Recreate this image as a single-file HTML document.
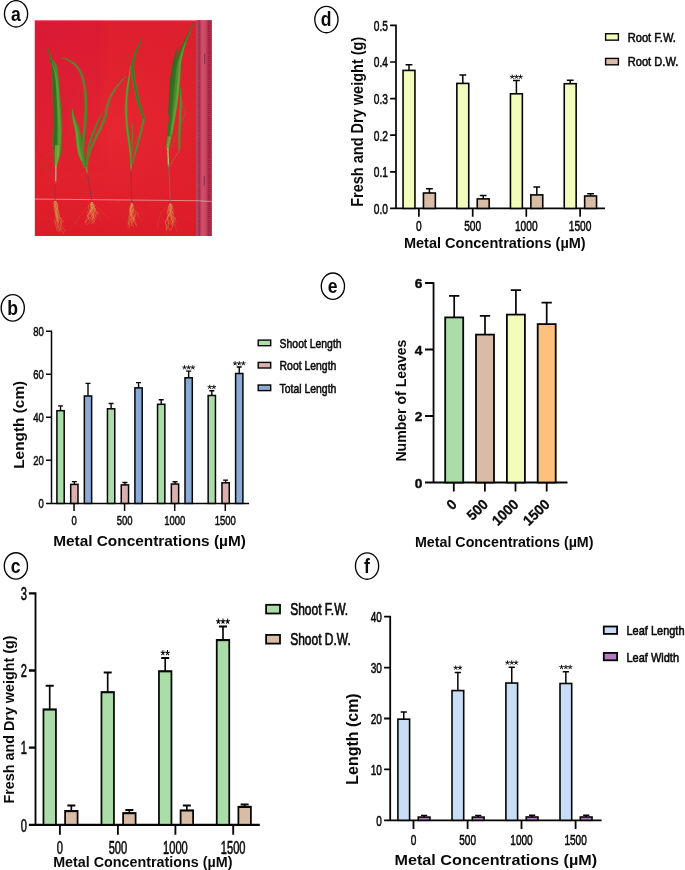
<!DOCTYPE html>
<html><head><meta charset="utf-8"><title>Figure</title>
<style>html,body{margin:0;padding:0;background:#fff}svg{display:block;will-change:transform}body{font-family:"Liberation Sans",sans-serif}</style></head>
<body>
<svg width="685" height="870" viewBox="0 0 685 870" font-family="Liberation Sans, sans-serif">
<rect width="685" height="870" fill="#fff"/>
<defs>
<linearGradient id="bgv" x1="0" y1="0" x2="0" y2="1">
<stop offset="0" stop-color="#dc1f2e"/><stop offset="0.45" stop-color="#e2232e"/><stop offset="0.85" stop-color="#e01e2a"/><stop offset="1" stop-color="#db1b29"/>
</linearGradient>
<linearGradient id="bgl" x1="0" y1="0" x2="1" y2="0"><stop offset="0" stop-color="#d4143f" stop-opacity="0.45"/><stop offset="0.36" stop-color="#d4143f" stop-opacity="0.3"/><stop offset="0.4" stop-color="#d4143f" stop-opacity="0"/></linearGradient>
<linearGradient id="bgl2" x1="0" y1="0" x2="0" y2="1"><stop offset="0" stop-color="#fff" stop-opacity="1"/><stop offset="0.7" stop-color="#fff" stop-opacity="0.5"/><stop offset="1" stop-color="#fff" stop-opacity="0"/></linearGradient>
<mask id="mtop"><rect x="10" y="10" width="660" height="560" fill="url(#bgl2)"/></mask>
<radialGradient id="bgr" cx="0.45" cy="0.5" r="0.65">
<stop offset="0" stop-color="#ea2a33" stop-opacity="0.55"/><stop offset="1" stop-color="#d81c2c" stop-opacity="0"/>
</radialGradient>
<linearGradient id="rul" x1="0" y1="0" x2="1" y2="0">
<stop offset="0" stop-color="#b05068"/><stop offset="0.08" stop-color="#a63350"/><stop offset="0.24" stop-color="#b83a57"/><stop offset="0.3" stop-color="#cd4863"/><stop offset="0.45" stop-color="#d24e68"/><stop offset="0.6" stop-color="#ca4560"/><stop offset="0.68" stop-color="#b23752"/><stop offset="0.86" stop-color="#aa304b"/><stop offset="0.92" stop-color="#cf2439"/><stop offset="1" stop-color="#d3263a"/>
</linearGradient>
<linearGradient id="lf1" x1="0" y1="0" x2="1" y2="0">
<stop offset="0" stop-color="#3c7a27"/><stop offset="0.5" stop-color="#5d9c34"/><stop offset="1" stop-color="#2f6a22"/>
</linearGradient>
<linearGradient id="lf1v" x1="0" y1="0" x2="0" y2="1">
<stop offset="0" stop-color="#3f7f2a"/><stop offset="0.7" stop-color="#4f8f2e"/><stop offset="1" stop-color="#9ab544"/>
</linearGradient>
<clipPath id="pclip2"><rect x="34.8" y="20.27" width="176.96" height="215.74"/></clipPath>
<clipPath id="pclip"><rect x="17.3" y="19" width="638" height="777.8"/></clipPath>
</defs>
<g clip-path="url(#pclip2)">
<g>
<g transform="translate(30,15) scale(0.27737)">
<g>
<rect x="10" y="10" width="660" height="800" fill="url(#bgv)"/>
<rect x="10" y="10" width="660" height="800" fill="url(#bgr)"/>
<rect x="10" y="10" width="660" height="560" fill="url(#bgl)" mask="url(#mtop)"/>
<rect x="10" y="17" width="660" height="5" fill="#f2a0a8" opacity="0.55"/>
<!-- ruler -->
<g>
<rect x="599" y="10" width="58" height="800" fill="url(#rul)"/>
<path d="M611 20V800" stroke="#7a1c38" stroke-width="7" stroke-dasharray="3.4 4.1" opacity="0.5"/>
<path d="M603 20V800" stroke="#d9a5b3" stroke-width="1.6" opacity="0.45"/>
<path d="M646 20V800" stroke="#7a1c38" stroke-width="8" stroke-dasharray="3.4 4.1" opacity="0.7"/>
<path d="M630 140v36M628 580v36" stroke="#6d1c3c" stroke-width="3.5" opacity="0.7"/>

</g>
<!-- white line -->
<path d="M10 663.5L598 669.5L660 672.5" stroke="#efc9c4" stroke-width="2.3" fill="none" opacity="0.95"/>
</g>
</g>
</g>
<g>
<g transform="translate(30,15) scale(0.27737)">
<g>
<path d="M89.0 585.0C84.5 580.0 70.2 564.0 62.0 555.0C53.8 546.0 40.7 538.2 40.0 531.0C39.3 523.8 52.3 517.8 58.0 512.0C63.7 506.2 71.3 498.7 74.0 496.0" fill="none" stroke="#8a5a2a" stroke-width="2.8" stroke-linecap="round" opacity="0.85"/>
<path d="M66.8 122.1C67.5 128.6 69.2 149.6 71.2 161.2C73.2 172.7 76.8 169.9 78.6 191.4C80.4 213.0 81.2 257.6 82.0 290.7C82.8 323.9 83.6 363.8 83.5 390.3C83.4 416.8 81.5 431.5 81.5 449.7C81.5 467.9 82.5 486.0 83.5 499.3C84.5 512.6 86.4 521.4 87.5 529.5C88.7 537.5 90.0 544.8 90.5 547.9L95.5 548.1C96.3 545.2 98.0 538.5 100.5 530.5C103.0 522.6 108.1 514.0 110.5 500.7C112.8 487.3 113.8 468.8 114.5 450.3C115.2 431.8 115.6 416.5 114.5 389.7C113.4 362.9 110.8 322.8 108.0 289.3C105.1 255.8 102.2 210.3 97.4 188.6C92.5 166.8 83.8 169.9 78.8 158.8C73.8 147.7 69.2 128.1 67.2 121.9Z" fill="#4a8a2c" opacity="1" stroke="#4a8a2c" stroke-width="2.2" stroke-opacity="0.45" stroke-linejoin="round"/>
<path d="M66.8 124.0C67.6 130.1 69.4 149.5 71.6 160.6C73.7 171.7 77.6 168.9 79.5 190.5C81.4 212.1 82.2 257.0 83.0 290.2C83.8 323.5 84.4 363.4 84.5 390.0C84.6 416.7 83.3 431.7 83.5 450.0C83.7 468.3 84.5 486.8 85.5 500.1C86.5 513.5 88.8 525.1 89.5 530.1L94.5 529.9C94.8 524.9 96.2 513.2 96.5 499.9C96.8 486.5 96.3 468.3 96.5 450.0C96.7 431.7 97.8 416.7 97.5 390.0C97.2 363.3 96.5 323.2 95.0 289.8C93.5 256.4 91.6 211.2 88.5 189.5C85.4 167.7 80.0 170.3 76.4 159.4C72.9 148.5 68.8 129.9 67.2 124.0Z" fill="#2f6b22" opacity="0.85" stroke="#2f6b22" stroke-width="2.2" stroke-opacity="0.45" stroke-linejoin="round"/>
<path d="M79.5 170.1C81.7 180.2 89.4 205.3 92.5 230.4C95.7 255.4 96.9 291.9 98.5 320.2C100.1 348.5 101.4 376.8 102.0 400.1C102.6 423.4 102.3 441.6 102.0 459.9C101.7 478.1 100.3 501.5 100.0 509.8L104.0 510.2C105.0 501.8 109.0 478.5 110.0 460.1C111.0 441.8 110.7 423.3 110.0 399.9C109.2 376.5 107.6 348.1 105.5 319.8C103.4 291.4 101.6 254.6 97.5 229.6C93.3 204.7 83.3 179.8 80.5 169.9Z" fill="#6aa338" opacity="0.8" stroke="#6aa338" stroke-width="2.2" stroke-opacity="0.45" stroke-linejoin="round"/>
<path d="M91.0 470.0C90.7 475.0 89.1 489.8 89.0 499.7C88.9 509.7 90.2 521.6 90.5 529.6C90.9 537.6 90.9 544.8 91.0 547.8L95.0 548.2C95.7 545.2 97.8 538.4 99.5 530.4C101.2 522.4 104.4 510.3 105.0 500.3C105.6 490.2 103.3 475.0 103.0 470.0Z" fill="#93ad3f" opacity="0.7" stroke="#93ad3f" stroke-width="2.2" stroke-opacity="0.45" stroke-linejoin="round"/>
<path d="M93.0 545.0C93.0 550.8 93.2 570.0 93.0 580.0C92.8 590.0 92.2 600.8 92.0 605.0" fill="none" stroke="#c4bf8c" stroke-width="4.5" stroke-linecap="round" opacity="1"/>
<path d="M92.0 600.0C91.8 605.8 91.2 623.7 91.0 635.0C90.8 646.3 90.6 662.5 90.5 668.0" fill="none" stroke="#7a3a4a" stroke-width="3.4" stroke-linecap="round" opacity="0.75"/>
</g>
<g>
<path d="M115.3 154.5C118.7 156.2 129.0 160.8 135.7 164.7C142.3 168.6 149.2 172.4 155.4 178.0C161.5 183.6 167.7 191.1 172.5 198.4C177.2 205.6 180.6 211.9 183.7 221.4C186.9 231.0 189.4 244.3 191.3 255.8C193.3 267.3 194.7 278.0 195.5 290.4C196.3 302.7 196.3 317.6 196.2 330.0C196.2 342.4 196.0 352.3 195.3 364.7C194.6 377.1 193.1 392.0 192.0 404.5C190.9 417.0 189.3 425.4 188.5 439.7C187.7 454.0 186.5 475.0 187.3 490.1C188.0 505.3 190.8 518.8 193.0 530.5C195.3 542.2 199.3 555.6 200.6 560.6L205.4 559.4C204.4 554.4 200.7 541.1 199.0 529.5C197.2 517.9 195.0 504.7 194.7 489.9C194.5 475.0 196.3 454.4 197.5 440.3C198.7 426.3 200.6 418.0 202.0 405.5C203.4 393.0 204.9 377.9 205.7 365.3C206.5 352.7 206.8 342.6 206.8 330.0C206.7 317.4 206.5 302.3 205.5 289.6C204.5 277.0 202.9 266.0 200.7 254.2C198.5 242.3 195.8 228.6 192.3 218.6C188.7 208.5 184.8 201.4 179.5 193.6C174.3 185.9 167.5 177.7 160.6 172.0C153.8 166.3 145.8 162.4 138.3 159.3C130.8 156.2 119.5 154.5 115.7 153.5Z" fill="#5f7a2e" opacity="1" stroke="#5f7a2e" stroke-width="2.2" stroke-opacity="0.45" stroke-linejoin="round"/>
<path d="M115.4 154.4C118.9 155.9 129.4 159.7 136.3 163.3C143.2 167.0 150.4 170.9 156.7 176.5C163.0 182.1 169.4 189.8 174.3 197.1C179.2 204.5 182.8 210.9 186.1 220.6C189.4 230.3 192.0 243.8 194.0 255.4C196.1 266.9 197.5 277.7 198.5 290.1C199.5 302.6 199.8 323.4 200.0 330.0L203.0 330.0C202.9 323.3 203.3 302.4 202.5 289.9C201.7 277.3 200.1 266.4 198.0 254.6C195.9 242.9 193.3 229.3 189.9 219.4C186.5 209.4 182.8 202.5 177.7 194.9C172.6 187.2 166.0 179.2 159.3 173.5C152.6 167.8 144.9 164.0 137.7 160.7C130.4 157.3 119.3 154.8 115.6 153.6Z" fill="#8a6a3a" opacity="0.7" stroke="#8a6a3a" stroke-width="2.2" stroke-opacity="0.45" stroke-linejoin="round"/>
<path d="M199.0 290.0C199.0 296.7 199.2 317.5 199.0 330.0C198.8 342.5 198.7 352.4 198.0 364.9C197.3 377.3 196.2 392.3 195.0 404.8C193.8 417.3 191.9 425.7 191.0 439.9C190.1 454.1 188.9 475.0 189.5 490.0C190.1 505.1 192.4 518.6 194.5 530.3C196.6 541.9 200.8 555.2 202.0 560.2L204.0 559.8C202.9 554.8 199.4 541.4 197.5 529.7C195.6 518.1 192.9 504.9 192.5 490.0C192.1 475.0 193.9 454.3 195.0 440.1C196.1 426.0 197.7 417.7 199.0 405.2C200.3 392.7 202.2 377.7 203.0 365.1C203.8 352.6 204.2 342.5 204.0 330.0C203.8 317.5 202.3 296.6 202.0 290.0Z" fill="#4a8a2c" opacity="0.8" stroke="#4a8a2c" stroke-width="2.2" stroke-opacity="0.45" stroke-linejoin="round"/>
<path d="M151.8 338.0C152.0 344.4 151.5 363.0 153.1 376.1C154.8 389.2 158.6 397.4 161.7 416.7C164.8 435.9 167.8 473.4 171.7 491.7C175.5 510.0 180.7 516.7 184.7 526.5C188.7 536.3 193.8 546.7 195.6 550.8L200.4 549.2C199.5 544.9 197.0 533.7 195.3 523.5C193.6 513.3 193.2 506.7 190.3 488.3C187.5 469.9 182.9 432.4 178.3 413.3C173.8 394.3 167.2 386.4 162.9 373.9C158.5 361.3 154.0 343.9 152.2 338.0Z" fill="#4a8a2c" opacity="1" stroke="#4a8a2c" stroke-width="2.2" stroke-opacity="0.45" stroke-linejoin="round"/>
<path d="M152.8 342.0C153.1 347.6 153.2 363.1 155.0 375.4C156.8 387.6 160.5 396.4 163.6 415.6C166.6 434.8 169.4 472.4 173.1 490.8C176.7 509.1 183.5 519.9 185.6 525.7L190.4 524.3C188.8 518.4 184.3 507.6 180.9 489.2C177.6 470.9 174.1 433.5 170.4 414.4C166.8 395.3 161.8 386.7 159.0 374.6C156.1 362.6 154.2 347.4 153.2 342.0Z" fill="#6aa338" opacity="0.8" stroke="#6aa338" stroke-width="2.2" stroke-opacity="0.45" stroke-linejoin="round"/>
<path d="M345.2 220.7C341.7 224.2 330.8 234.3 324.1 241.4C317.4 248.4 310.8 255.5 305.1 263.0C299.5 270.4 294.8 278.2 290.5 286.1C286.1 294.1 282.1 301.8 279.0 310.6C275.8 319.4 273.7 329.4 271.6 339.1C269.5 348.7 269.1 358.9 266.2 368.7C263.2 378.6 258.4 388.2 253.9 398.1C249.4 408.0 243.9 417.7 238.9 428.0C234.0 438.4 228.6 449.8 224.1 460.3C219.6 470.7 215.3 480.1 211.9 490.8C208.6 501.5 205.6 514.6 204.0 524.5C202.5 534.3 202.8 545.6 202.5 549.8L207.5 550.2C207.9 546.1 208.0 535.0 210.0 525.5C211.9 516.0 215.4 503.5 219.1 493.2C222.7 482.9 227.2 473.9 231.9 463.7C236.6 453.5 242.0 442.3 247.1 432.0C252.1 421.7 257.5 412.0 262.1 401.9C266.7 391.8 271.8 381.4 274.8 371.3C277.9 361.1 278.4 350.6 280.4 340.9C282.4 331.3 284.2 321.9 287.0 313.4C289.9 304.9 293.6 297.6 297.5 289.9C301.5 282.2 305.8 274.6 310.9 267.0C315.9 259.5 322.1 252.2 327.9 244.6C333.7 237.0 342.8 225.2 345.8 221.3Z" fill="#6a7a30" opacity="1" stroke="#6a7a30" stroke-width="2.2" stroke-opacity="0.45" stroke-linejoin="round"/>
<path d="M345.3 220.8C341.9 224.4 331.5 235.0 325.0 242.2C318.6 249.4 312.2 256.6 306.8 264.1C301.4 271.6 296.9 279.4 292.7 287.3C288.5 295.2 284.6 302.8 281.6 311.5C278.6 320.2 276.6 330.0 274.5 339.7C272.4 349.4 269.9 364.7 269.0 369.7L272.0 370.3C272.9 365.3 275.4 349.9 277.5 340.3C279.5 330.7 281.4 321.1 284.4 312.5C287.4 303.9 291.2 296.5 295.3 288.7C299.5 280.9 304.0 273.4 309.2 265.9C314.5 258.4 320.9 251.3 327.0 243.8C333.0 236.4 342.6 224.9 345.7 221.2Z" fill="#8c6c3c" opacity="0.7" stroke="#8c6c3c" stroke-width="2.2" stroke-opacity="0.45" stroke-linejoin="round"/>
<path d="M260.2 352.9C258.0 356.5 251.0 367.3 246.7 374.9C242.5 382.5 238.5 390.5 234.8 398.6C231.1 406.7 227.9 415.2 224.5 423.6C221.1 432.0 217.4 438.8 214.4 448.9C211.4 459.0 208.5 473.4 206.6 484.3C204.6 495.3 203.4 504.6 202.5 514.7C201.7 524.8 201.7 539.8 201.5 544.9L206.5 545.1C206.8 540.2 207.3 525.2 208.5 515.3C209.6 505.4 211.3 496.4 213.4 485.7C215.6 475.0 218.6 461.0 221.6 451.1C224.6 441.2 228.2 434.7 231.5 426.4C234.8 418.1 237.9 409.6 241.2 401.4C244.5 393.2 248.0 385.1 251.3 377.1C254.5 369.0 259.2 357.1 260.8 353.1Z" fill="#557f2c" opacity="1" stroke="#557f2c" stroke-width="2.2" stroke-opacity="0.45" stroke-linejoin="round"/>
<path d="M203.0 550.0C203.8 554.3 207.2 571.7 208.0 576.0" fill="none" stroke="#7f8f45" stroke-width="5" stroke-linecap="round" opacity="1"/>
<path d="M207.0 570.0C208.0 576.7 211.0 597.5 213.0 610.0C215.0 622.5 217.3 634.8 219.0 645.0C220.7 655.2 222.3 666.7 223.0 671.0" fill="none" stroke="#7a3a4a" stroke-width="3.6" stroke-linecap="round" opacity="0.75"/>
</g>
<g>
<path d="M405.7 83.9C403.3 87.6 395.6 98.4 391.2 106.1C386.8 113.8 382.7 121.9 379.2 129.9C375.7 137.9 372.4 145.9 370.3 154.2C368.3 162.5 367.3 170.1 366.8 179.9C366.2 189.6 366.5 201.6 367.3 212.4C368.1 223.2 369.6 233.1 371.6 244.8C373.5 256.6 376.4 270.3 379.1 283.0C381.9 295.8 384.7 309.9 388.0 321.3C391.3 332.7 395.7 342.4 399.0 351.4C402.3 360.3 406.2 371.2 407.7 375.1L414.3 372.9C413.1 368.8 409.9 357.7 407.0 348.6C404.2 339.6 400.2 330.0 397.2 318.7C394.2 307.4 391.5 293.6 388.9 281.0C386.3 268.4 383.5 254.7 381.4 243.2C379.4 231.6 377.8 222.1 376.7 211.6C375.7 201.1 375.1 189.4 375.2 180.1C375.4 170.9 376.1 163.8 377.7 155.8C379.2 147.8 381.9 140.1 384.8 132.1C387.6 124.1 391.2 115.9 394.8 107.9C398.4 99.9 404.3 88.1 406.3 84.1Z" fill="#4a8a2c" opacity="1" stroke="#4a8a2c" stroke-width="2.2" stroke-opacity="0.45" stroke-linejoin="round"/>
<path d="M405.8 83.9C403.5 87.7 396.3 98.8 392.1 106.5C387.9 114.3 383.9 122.4 380.6 130.4C377.3 138.5 374.2 146.4 372.3 154.6C370.4 162.9 369.4 170.3 369.0 179.9C368.6 189.5 369.1 201.4 370.0 212.2C370.9 222.9 372.5 232.6 374.5 244.3C376.5 256.0 379.4 269.7 382.0 282.4C384.7 295.1 387.5 309.2 390.7 320.5C393.9 331.9 398.0 341.7 401.1 350.6C404.3 359.6 408.2 370.5 409.6 374.5L412.4 373.5C411.2 369.5 407.9 358.4 404.9 349.4C401.9 340.3 397.7 330.8 394.5 319.5C391.4 308.2 388.6 294.2 386.0 281.6C383.3 269.0 380.5 255.3 378.5 243.7C376.5 232.0 374.9 222.4 374.0 211.8C373.1 201.2 372.7 189.5 373.0 180.1C373.3 170.7 374.0 163.5 375.7 155.4C377.4 147.3 380.4 139.5 383.4 131.6C386.4 123.6 390.1 115.4 393.9 107.5C397.7 99.5 404.1 88.0 406.2 84.1Z" fill="#2f6b22" opacity="0.7" stroke="#2f6b22" stroke-width="2.2" stroke-opacity="0.45" stroke-linejoin="round"/>
<path d="M407.6 373.2C406.5 377.5 403.3 390.1 401.1 399.1C398.9 408.0 396.6 417.9 394.4 427.1C392.1 436.3 389.6 445.5 387.6 454.2C385.6 462.8 384.4 470.0 382.1 479.2C379.8 488.4 375.9 500.1 373.6 509.3C371.2 518.6 369.0 530.3 368.1 534.5L371.9 535.5C373.0 531.3 375.8 519.8 378.4 510.7C381.1 501.5 385.2 489.9 387.9 480.8C390.6 471.7 392.1 464.5 394.4 455.8C396.7 447.2 399.2 438.1 401.6 428.9C404.0 419.8 406.8 410.0 408.9 400.9C411.0 391.9 413.5 379.1 414.4 374.8Z" fill="#5a8430" opacity="1" stroke="#5a8430" stroke-width="2.2" stroke-opacity="0.45" stroke-linejoin="round"/>
<path d="M361.7 180.0C360.7 186.6 357.8 206.4 355.5 219.7C353.2 232.9 350.1 246.2 348.0 259.5C346.0 272.8 344.3 286.1 343.3 299.7C342.2 313.3 341.8 327.6 341.8 341.0C341.8 354.4 342.3 366.7 343.3 380.3C344.2 393.9 345.9 410.0 347.5 422.5C349.2 435.1 351.5 445.6 353.0 455.5C354.5 465.5 355.4 472.4 356.5 482.3C357.7 492.3 359.0 504.8 360.0 515.2C361.0 525.7 362.1 540.2 362.5 545.2L367.5 544.8C367.2 539.8 366.7 525.3 366.0 514.8C365.3 504.2 364.3 491.7 363.5 481.7C362.6 471.6 362.1 464.5 361.0 454.5C359.8 444.4 357.8 433.9 356.5 421.5C355.1 409.0 353.5 393.1 352.7 379.7C352.0 366.3 351.8 354.2 351.8 341.0C351.8 327.8 352.0 313.7 352.7 300.3C353.4 286.9 354.7 273.8 356.0 260.5C357.3 247.2 359.4 233.7 360.5 220.3C361.5 206.9 362.0 186.7 362.3 180.0Z" fill="#4a8a2c" opacity="1" stroke="#4a8a2c" stroke-width="2.2" stroke-opacity="0.45" stroke-linejoin="round"/>
<path d="M361.8 180.0C361.0 186.6 358.7 206.5 356.8 219.8C354.8 233.1 351.8 246.4 350.0 259.8C348.2 273.1 346.7 286.3 345.8 299.9C344.8 313.4 344.5 327.6 344.6 341.0C344.6 354.4 345.1 366.6 346.0 380.1C346.9 393.7 348.5 409.7 350.0 422.2C351.6 434.8 353.8 445.2 355.3 455.2C356.7 465.2 357.4 472.2 358.5 482.1C359.6 492.1 361.1 504.6 362.0 515.1C362.9 525.6 363.7 540.1 364.0 545.1L366.0 544.9C365.7 539.9 364.7 525.4 364.0 514.9C363.2 504.4 362.4 491.9 361.5 481.9C360.6 471.8 360.0 464.8 358.7 454.8C357.5 444.8 355.4 434.2 354.0 421.8C352.5 409.3 350.8 393.3 350.0 379.9C349.2 366.4 349.0 354.3 349.1 341.0C349.1 327.7 349.4 313.6 350.2 300.1C351.1 286.7 352.5 273.6 354.0 260.2C355.5 246.9 357.9 233.5 359.2 220.2C360.6 206.8 361.7 186.7 362.2 180.0Z" fill="#6aa338" opacity="0.75" stroke="#6aa338" stroke-width="2.2" stroke-opacity="0.45" stroke-linejoin="round"/>
<path d="M368.0 395.0C368.3 400.8 370.0 417.5 370.0 430.0C370.0 442.5 368.7 455.0 368.0 470.0C367.3 485.0 366.3 511.7 366.0 520.0" fill="none" stroke="#6f7f30" stroke-width="3.5" stroke-linecap="round" opacity="0.9"/>
<path d="M385.0 440.0C383.8 446.7 380.3 465.8 378.0 480.0C375.7 494.2 372.2 517.5 371.0 525.0" fill="none" stroke="#7a6a30" stroke-width="2.5" stroke-linecap="round" opacity="0.8"/>
<path d="M365.0 540.0C364.9 543.3 364.6 556.7 364.5 560.0" fill="none" stroke="#7f8f45" stroke-width="5" stroke-linecap="round" opacity="1"/>
<path d="M364.5 555.0C364.6 562.5 364.8 585.8 365.0 600.0C365.2 614.2 365.7 627.3 366.0 640.0C366.3 652.7 366.8 670.0 367.0 676.0" fill="none" stroke="#7a3a4a" stroke-width="3.6" stroke-linecap="round" opacity="0.75"/>
</g>
<g>
<path d="M531.4 117.9C529.7 123.2 524.2 137.5 521.1 149.4C517.9 161.3 515.3 174.3 512.6 189.3C509.8 204.3 506.5 221.1 504.5 239.5C502.6 257.9 501.9 279.7 501.0 299.7C500.1 319.8 499.3 349.8 499.0 359.8L507.0 360.2C507.7 350.2 509.6 320.2 511.0 300.3C512.4 280.3 513.7 258.8 515.5 240.5C517.2 222.3 519.5 205.7 521.4 190.7C523.4 175.7 525.2 162.7 526.9 150.6C528.7 138.5 531.1 123.5 532.0 118.1Z" fill="#2f6b22" opacity="1" stroke="#2f6b22" stroke-width="2.2" stroke-opacity="0.45" stroke-linejoin="round"/>
<path d="M586.3 32.9C583.4 38.9 574.5 56.9 568.7 69.0C562.9 81.1 556.2 94.6 551.4 105.4C546.6 116.2 544.0 124.2 539.8 133.9C535.7 143.6 530.4 153.0 526.8 163.8C523.1 174.6 520.2 187.1 518.1 198.6C515.9 210.0 515.1 221.4 514.0 232.4C512.8 243.4 512.0 253.9 511.1 264.6C510.2 275.3 509.4 285.4 508.4 296.5C507.4 307.7 506.0 320.0 505.1 331.7C504.2 343.4 504.2 355.1 503.1 366.8C502.0 378.5 499.8 390.2 498.6 401.9C497.3 413.5 496.6 426.5 495.6 436.9C494.6 447.3 493.0 456.3 492.6 464.2C492.1 472.2 492.9 481.3 493.0 484.7L500.0 485.3C500.6 482.0 501.7 473.5 503.4 465.8C505.2 458.1 508.4 449.3 510.4 439.1C512.4 428.8 513.5 415.8 515.4 404.1C517.3 392.5 520.0 380.9 521.9 369.2C523.8 357.6 525.1 345.9 526.9 334.3C528.7 322.6 531.1 310.6 532.8 299.5C534.4 288.3 535.6 278.1 536.9 267.4C538.3 256.6 540.0 245.8 540.8 234.8C541.7 223.8 541.4 212.5 541.9 201.4C542.5 190.3 542.5 178.7 544.2 168.2C545.9 157.6 549.6 148.0 552.2 138.1C554.7 128.2 556.3 119.8 559.8 108.6C563.3 97.4 568.8 83.5 573.3 71.0C577.8 58.4 584.6 39.4 586.9 33.1Z" fill="#4a8a2c" opacity="1" stroke="#4a8a2c" stroke-width="2.2" stroke-opacity="0.45" stroke-linejoin="round"/>
<path d="M585.8 33.9C582.8 39.8 573.7 57.4 567.6 69.4C561.6 81.4 554.9 95.1 549.7 106.0C544.6 116.9 541.1 124.9 536.8 134.7C532.4 144.5 527.2 154.0 523.7 164.7C520.2 175.5 517.7 187.8 515.6 199.1C513.5 210.4 512.3 221.3 511.0 232.4C509.8 243.4 508.9 254.6 508.0 265.4C507.1 276.3 506.4 286.3 505.5 297.5C504.7 308.7 503.7 321.0 503.0 332.6C502.3 344.3 502.3 356.0 501.5 367.6C500.7 379.3 499.2 390.9 498.0 402.5C496.9 414.2 495.4 427.2 494.5 437.6C493.6 448.0 492.8 460.2 492.5 464.7L497.5 465.3C498.2 460.8 500.1 448.7 501.5 438.4C502.9 428.1 504.5 415.1 506.0 403.5C507.5 391.8 509.3 380.1 510.5 368.4C511.7 356.7 512.0 345.0 513.0 333.4C514.0 321.7 515.3 309.6 516.5 298.5C517.6 287.4 518.9 277.4 520.0 266.6C521.1 255.7 521.9 244.6 523.0 233.6C524.0 222.7 524.9 211.9 526.4 200.9C528.0 189.8 529.5 177.9 532.3 167.3C535.1 156.7 539.6 147.2 543.2 137.3C546.9 127.4 549.8 119.1 554.3 108.0C558.8 96.9 565.0 83.0 570.4 70.6C575.7 58.3 583.5 40.2 586.2 34.1Z" fill="#2f6b22" opacity="0.8" stroke="#2f6b22" stroke-width="2.2" stroke-opacity="0.45" stroke-linejoin="round"/>
<path d="M559.5 99.9C557.3 106.5 549.8 126.2 546.1 139.5C542.3 152.8 539.4 164.1 537.0 179.6C534.7 195.1 533.8 213.0 532.0 232.7C530.2 252.3 528.6 275.1 526.0 297.5C523.4 320.0 519.6 345.5 516.5 367.5C513.5 389.5 509.0 419.2 507.5 429.6L512.5 430.4C514.3 420.1 519.9 390.5 523.5 368.5C527.0 346.5 531.2 321.0 534.0 298.5C536.7 275.9 538.5 253.0 540.0 233.3C541.5 213.7 541.3 195.9 543.0 180.4C544.6 164.9 547.0 153.9 549.9 140.5C552.9 127.1 558.7 106.9 560.5 100.1Z" fill="#6aa338" opacity="0.85" stroke="#6aa338" stroke-width="2.2" stroke-opacity="0.45" stroke-linejoin="round"/>
<path d="M496.6 436.8C496.0 441.4 493.6 456.3 493.0 464.3C492.5 472.3 493.4 481.4 493.5 484.8L499.5 485.2C500.1 482.0 501.3 473.4 503.0 465.7C504.6 458.0 508.3 443.6 509.4 439.2Z" fill="#93ad3f" opacity="0.6" stroke="#93ad3f" stroke-width="2.2" stroke-opacity="0.45" stroke-linejoin="round"/>
<path d="M540.5 255.0C540.5 260.9 540.6 279.3 540.5 290.1C540.4 300.9 540.4 308.3 540.0 320.0C539.6 331.6 538.7 346.5 538.0 359.8C537.3 373.1 536.5 386.5 536.0 399.8C535.5 413.2 534.9 425.2 534.8 439.9C534.6 454.6 535.0 480.0 535.0 488.0L541.0 488.0C541.2 480.0 541.7 454.7 542.2 440.1C542.7 425.4 543.4 413.5 544.0 400.2C544.6 386.9 545.5 373.5 546.0 360.2C546.5 346.8 547.1 331.8 547.0 320.0C546.9 308.3 546.4 300.8 545.5 289.9C544.6 279.1 542.2 260.8 541.5 255.0Z" fill="#5a8a30" opacity="1" stroke="#5a8a30" stroke-width="2.2" stroke-opacity="0.45" stroke-linejoin="round"/>
<path d="M543.0 300.0C544.5 305.0 549.2 321.3 552.0 330.0C554.8 338.7 560.7 342.8 560.0 352.0C559.3 361.2 552.5 374.2 548.0 385.0C543.5 395.8 537.5 406.5 533.0 417.0C528.5 427.5 524.7 438.2 521.0 448.0C517.3 457.8 512.7 471.3 511.0 476.0" fill="none" stroke="#86703a" stroke-width="2.6" stroke-linecap="round" opacity="0.85"/>
<path d="M538.0 488.0C535.3 492.5 527.2 506.2 522.0 515.0C516.8 523.8 509.1 536.7 506.5 541.0" fill="none" stroke="#9a7a4a" stroke-width="2.4" stroke-linecap="round" opacity="0.85"/>
<path d="M497.0 483.0C497.2 487.5 497.6 499.7 498.0 510.0C498.4 520.3 499.2 539.2 499.5 545.0" fill="none" stroke="#b9c065" stroke-width="5" stroke-linecap="round" opacity="1"/>
<path d="M499.5 540.0C499.8 548.3 500.8 573.3 501.5 590.0C502.2 606.7 502.9 625.3 503.5 640.0C504.1 654.7 505.0 671.7 505.3 678.0" fill="none" stroke="#854a58" stroke-width="3.6" stroke-linecap="round" opacity="0.7"/>
<path d="M500.5 545.0C500.9 554.2 502.2 580.8 503.0 600.0C503.8 619.2 504.7 650.0 505.0 660.0" fill="none" stroke="#b9a080" stroke-width="1.5" stroke-linecap="round" opacity="0.6"/>
</g>
<g>
<path d="M89.4 672.0C89.8 673.9 92.4 680.7 91.7 683.6C91.0 686.4 84.3 686.2 85.3 689.2C86.3 692.2 96.6 696.9 97.5 701.7C98.3 706.5 90.9 713.9 90.5 718.2C90.2 722.4 94.3 724.4 95.4 727.4C96.6 730.5 97.4 733.2 97.2 736.4C97.1 739.7 95.0 745.2 94.5 746.9M93.2 672.0C93.7 673.7 95.2 677.6 96.0 682.4C96.8 687.1 98.5 695.8 97.8 700.4C97.2 705.0 91.6 705.3 92.1 709.8C92.6 714.2 99.5 721.4 100.8 727.2C102.0 732.9 99.6 739.0 99.5 744.3C99.5 749.5 100.8 753.9 100.3 758.4C99.9 763.0 97.4 769.2 96.8 771.3M90.7 672.0C90.1 674.0 87.1 678.5 87.4 684.2C87.7 689.8 90.5 700.2 92.6 705.9C94.6 711.5 98.1 713.8 99.7 718.2C101.3 722.6 100.9 727.7 102.3 732.3C103.7 737.0 106.0 741.0 108.3 746.1C110.7 751.3 113.3 757.6 116.3 763.1C119.3 768.5 124.5 776.3 126.2 778.9M93.6 672.0C94.3 674.2 96.2 679.4 97.8 685.4C99.4 691.3 101.6 701.9 103.1 707.8C104.6 713.7 106.0 716.4 106.8 720.7C107.5 725.1 106.5 728.6 107.5 733.9C108.5 739.3 112.6 747.7 112.9 752.9C113.1 758.1 107.7 759.0 109.1 764.9C110.5 770.8 119.2 784.4 121.2 788.4M88.5 672.0C88.0 673.5 84.2 677.1 85.6 681.3C87.0 685.4 96.3 692.7 97.1 696.8C97.9 700.9 90.9 702.2 90.4 705.6C89.9 709.1 92.1 713.4 94.1 717.4C96.1 721.4 98.6 726.2 102.1 729.6C105.7 732.9 112.5 734.6 115.5 737.5C118.5 740.4 119.4 745.3 120.2 746.8M88.5 672.0C87.9 673.1 84.6 676.8 85.3 678.8C86.0 680.9 92.5 681.2 92.7 684.3C93.0 687.5 86.7 694.0 86.7 697.6C86.7 701.2 89.9 704.0 92.6 705.8C95.3 707.7 101.9 706.8 103.0 708.7C104.1 710.7 99.1 714.6 99.3 717.4C99.5 720.2 103.6 724.2 104.4 725.6M91.4 672.0C91.5 674.5 91.5 682.2 92.4 687.1C93.3 691.9 96.8 695.2 96.8 701.1C96.9 707.1 92.5 717.0 92.6 722.7C92.7 728.3 97.6 730.4 97.5 734.9C97.5 739.3 91.5 744.9 92.3 749.4C93.2 753.9 100.3 756.4 102.4 761.9C104.5 767.3 104.7 778.9 105.1 782.4M88.4 672.0C89.0 673.7 91.1 678.1 92.1 682.2C93.1 686.3 95.2 693.3 94.3 696.7C93.4 700.1 86.2 698.6 86.8 702.7C87.5 706.8 97.0 717.0 98.3 721.3C99.7 725.7 94.2 725.7 94.9 728.7C95.6 731.6 101.2 735.4 102.4 739.0C103.5 742.6 102.0 748.4 102.0 750.3M90.2 672.0C90.1 674.0 90.2 680.7 89.4 684.1C88.7 687.5 84.6 689.7 85.9 692.4C87.3 695.1 96.5 696.7 97.5 700.3C98.5 703.9 92.6 711.0 92.1 714.2C91.6 717.3 93.1 716.0 94.3 719.2C95.4 722.3 98.7 729.7 99.1 733.2C99.5 736.7 97.0 738.9 96.6 740.1M90.0 672.0C91.2 673.4 96.5 676.6 97.0 680.5C97.4 684.4 91.5 691.4 92.6 695.5C93.7 699.6 102.8 702.1 103.7 705.1C104.6 708.1 97.8 710.2 98.2 713.6C98.7 717.0 103.8 720.6 106.6 725.3C109.3 730.0 114.1 737.8 114.8 741.6C115.4 745.5 111.3 747.2 110.6 748.3M92.8 672.0C92.6 673.9 91.7 678.3 91.6 683.5C91.5 688.7 91.9 698.1 92.2 703.2C92.6 708.3 92.7 709.7 93.6 714.0C94.4 718.3 96.5 723.5 97.4 729.0C98.3 734.6 99.2 743.2 99.2 747.5C99.3 751.7 95.8 749.8 97.7 754.6C99.6 759.3 108.7 772.4 110.9 776.0M93.9 672.0C94.9 674.2 99.3 679.8 99.9 685.5C100.4 691.2 97.9 700.5 97.3 706.1C96.6 711.7 97.1 714.7 96.0 719.3C95.0 723.8 91.8 728.9 90.7 733.5C89.7 738.2 89.1 741.9 89.8 747.0C90.5 752.2 93.4 759.3 94.8 764.5C96.1 769.7 97.3 776.0 97.8 778.3M93.4 672.0C94.5 675.1 99.5 686.2 100.1 690.7C100.7 695.2 97.0 694.9 97.3 699.0C97.5 703.2 101.5 709.8 101.5 715.8C101.5 721.8 97.2 729.7 97.4 735.2C97.6 740.6 100.6 743.6 102.8 748.6C105.1 753.7 110.7 760.8 111.1 765.7C111.5 770.6 106.2 776.2 105.2 778.3" fill="none" stroke="#cf7a33" stroke-width="2.4" stroke-linecap="round" opacity="0.55"/>
<path d="M89.4 672.0C89.8 673.9 92.4 680.7 91.7 683.6C91.0 686.4 84.3 686.2 85.3 689.2C86.3 692.2 96.6 696.9 97.5 701.7C98.3 706.5 90.9 713.9 90.5 718.2C90.2 722.4 94.3 724.4 95.4 727.4C96.6 730.5 97.4 733.2 97.2 736.4C97.1 739.7 95.0 745.2 94.5 746.9M93.2 672.0C93.7 673.7 95.2 677.6 96.0 682.4C96.8 687.1 98.5 695.8 97.8 700.4C97.2 705.0 91.6 705.3 92.1 709.8C92.6 714.2 99.5 721.4 100.8 727.2C102.0 732.9 99.6 739.0 99.5 744.3C99.5 749.5 100.8 753.9 100.3 758.4C99.9 763.0 97.4 769.2 96.8 771.3M90.7 672.0C90.1 674.0 87.1 678.5 87.4 684.2C87.7 689.8 90.5 700.2 92.6 705.9C94.6 711.5 98.1 713.8 99.7 718.2C101.3 722.6 100.9 727.7 102.3 732.3C103.7 737.0 106.0 741.0 108.3 746.1C110.7 751.3 113.3 757.6 116.3 763.1C119.3 768.5 124.5 776.3 126.2 778.9M93.6 672.0C94.3 674.2 96.2 679.4 97.8 685.4C99.4 691.3 101.6 701.9 103.1 707.8C104.6 713.7 106.0 716.4 106.8 720.7C107.5 725.1 106.5 728.6 107.5 733.9C108.5 739.3 112.6 747.7 112.9 752.9C113.1 758.1 107.7 759.0 109.1 764.9C110.5 770.8 119.2 784.4 121.2 788.4M88.5 672.0C88.0 673.5 84.2 677.1 85.6 681.3C87.0 685.4 96.3 692.7 97.1 696.8C97.9 700.9 90.9 702.2 90.4 705.6C89.9 709.1 92.1 713.4 94.1 717.4C96.1 721.4 98.6 726.2 102.1 729.6C105.7 732.9 112.5 734.6 115.5 737.5C118.5 740.4 119.4 745.3 120.2 746.8M88.5 672.0C87.9 673.1 84.6 676.8 85.3 678.8C86.0 680.9 92.5 681.2 92.7 684.3C93.0 687.5 86.7 694.0 86.7 697.6C86.7 701.2 89.9 704.0 92.6 705.8C95.3 707.7 101.9 706.8 103.0 708.7C104.1 710.7 99.1 714.6 99.3 717.4C99.5 720.2 103.6 724.2 104.4 725.6M91.4 672.0C91.5 674.5 91.5 682.2 92.4 687.1C93.3 691.9 96.8 695.2 96.8 701.1C96.9 707.1 92.5 717.0 92.6 722.7C92.7 728.3 97.6 730.4 97.5 734.9C97.5 739.3 91.5 744.9 92.3 749.4C93.2 753.9 100.3 756.4 102.4 761.9C104.5 767.3 104.7 778.9 105.1 782.4M88.4 672.0C89.0 673.7 91.1 678.1 92.1 682.2C93.1 686.3 95.2 693.3 94.3 696.7C93.4 700.1 86.2 698.6 86.8 702.7C87.5 706.8 97.0 717.0 98.3 721.3C99.7 725.7 94.2 725.7 94.9 728.7C95.6 731.6 101.2 735.4 102.4 739.0C103.5 742.6 102.0 748.4 102.0 750.3M90.2 672.0C90.1 674.0 90.2 680.7 89.4 684.1C88.7 687.5 84.6 689.7 85.9 692.4C87.3 695.1 96.5 696.7 97.5 700.3C98.5 703.9 92.6 711.0 92.1 714.2C91.6 717.3 93.1 716.0 94.3 719.2C95.4 722.3 98.7 729.7 99.1 733.2C99.5 736.7 97.0 738.9 96.6 740.1M90.0 672.0C91.2 673.4 96.5 676.6 97.0 680.5C97.4 684.4 91.5 691.4 92.6 695.5C93.7 699.6 102.8 702.1 103.7 705.1C104.6 708.1 97.8 710.2 98.2 713.6C98.7 717.0 103.8 720.6 106.6 725.3C109.3 730.0 114.1 737.8 114.8 741.6C115.4 745.5 111.3 747.2 110.6 748.3M92.8 672.0C92.6 673.9 91.7 678.3 91.6 683.5C91.5 688.7 91.9 698.1 92.2 703.2C92.6 708.3 92.7 709.7 93.6 714.0C94.4 718.3 96.5 723.5 97.4 729.0C98.3 734.6 99.2 743.2 99.2 747.5C99.3 751.7 95.8 749.8 97.7 754.6C99.6 759.3 108.7 772.4 110.9 776.0M93.9 672.0C94.9 674.2 99.3 679.8 99.9 685.5C100.4 691.2 97.9 700.5 97.3 706.1C96.6 711.7 97.1 714.7 96.0 719.3C95.0 723.8 91.8 728.9 90.7 733.5C89.7 738.2 89.1 741.9 89.8 747.0C90.5 752.2 93.4 759.3 94.8 764.5C96.1 769.7 97.3 776.0 97.8 778.3M93.4 672.0C94.5 675.1 99.5 686.2 100.1 690.7C100.7 695.2 97.0 694.9 97.3 699.0C97.5 703.2 101.5 709.8 101.5 715.8C101.5 721.8 97.2 729.7 97.4 735.2C97.6 740.6 100.6 743.6 102.8 748.6C105.1 753.7 110.7 760.8 111.1 765.7C111.5 770.6 106.2 776.2 105.2 778.3" fill="none" stroke="#ecc080" stroke-width="1.2" stroke-linecap="round" opacity="0.45" stroke-dasharray="3 5"/>
<path d="M223.7 676.0C224.9 678.0 229.3 685.3 230.6 688.1C231.8 690.8 232.0 688.9 231.2 692.5C230.4 696.2 226.1 705.4 225.9 710.0C225.6 714.5 230.0 717.0 229.6 719.8C229.2 722.5 223.9 723.6 223.4 726.5C222.9 729.4 225.1 734.4 226.6 737.2C228.1 740.0 231.6 742.1 232.6 743.1M221.3 676.0C221.7 677.4 223.7 681.0 223.9 684.2C224.2 687.3 223.7 691.3 222.8 694.9C221.8 698.5 220.9 701.1 218.4 705.7C215.9 710.3 209.3 718.8 207.7 722.6C206.0 726.3 206.8 724.6 208.3 728.2C209.9 731.9 217.4 739.8 216.8 744.4C216.2 749.0 206.6 754.1 204.6 756.0M223.2 676.0C224.3 677.3 228.6 681.3 229.8 684.0C231.1 686.6 232.0 690.3 230.8 692.0C229.5 693.7 223.7 693.0 222.1 694.2C220.5 695.3 221.3 696.8 221.0 698.9C220.7 700.9 219.1 704.6 220.4 706.6C221.7 708.5 227.1 708.4 228.8 710.6C230.5 712.8 230.4 718.2 230.7 719.7M221.9 676.0C221.6 677.3 219.4 681.9 220.4 684.0C221.3 686.1 225.3 686.7 227.4 688.8C229.5 690.9 232.3 692.9 233.1 696.7C233.8 700.4 233.5 707.7 232.0 711.4C230.5 715.2 224.1 716.8 224.0 719.1C223.8 721.5 230.4 723.9 231.2 725.6C232.0 727.3 229.1 728.9 228.7 729.5M221.1 676.0C222.0 677.6 224.6 683.9 226.4 685.8C228.1 687.7 231.5 685.9 231.5 687.5C231.5 689.1 225.6 693.5 226.2 695.3C226.9 697.1 233.3 695.9 235.4 698.4C237.4 700.9 237.1 708.2 238.5 710.3C239.9 712.3 242.1 709.4 243.8 710.6C245.5 711.7 248.1 716.2 248.9 717.4M222.0 676.0C221.7 678.4 219.8 686.9 220.0 690.3C220.2 693.7 223.1 693.7 223.2 696.3C223.3 699.0 221.3 702.7 220.4 706.2C219.4 709.6 216.4 712.1 217.5 716.8C218.5 721.6 226.1 731.0 226.4 734.5C226.8 738.0 218.7 734.9 219.5 737.9C220.4 740.9 229.6 750.2 231.6 752.7M222.4 676.0C223.0 677.4 226.4 682.2 225.6 684.5C224.9 686.9 218.5 687.8 218.0 690.2C217.5 692.6 223.2 694.9 222.6 698.9C221.9 702.9 216.8 710.3 214.1 714.2C211.4 718.1 206.1 719.6 206.2 722.2C206.3 724.9 214.2 728.2 214.7 730.3C215.3 732.4 210.3 734.2 209.4 735.0M222.6 676.0C221.8 677.7 217.5 682.1 218.0 686.1C218.4 690.0 224.6 696.2 225.3 699.7C226.0 703.2 224.2 703.7 222.0 707.0C219.8 710.3 214.2 716.4 211.9 719.6C209.6 722.9 209.6 723.9 208.2 726.6C206.8 729.3 204.9 731.5 203.4 735.9C201.9 740.3 199.8 750.2 199.0 753.1M225.8 676.0C225.4 676.8 224.0 677.9 223.5 681.0C222.9 684.1 221.3 691.7 222.5 694.8C223.8 697.9 229.7 697.0 230.9 699.7C232.0 702.5 230.1 708.2 229.7 711.3C229.3 714.5 228.5 716.5 228.4 718.7C228.3 720.9 229.3 722.3 229.3 724.6C229.3 726.8 228.6 730.9 228.5 732.2M222.9 676.0C222.6 678.2 220.2 685.8 220.8 689.0C221.5 692.3 227.2 693.0 227.0 695.6C226.8 698.2 219.9 701.5 219.4 704.8C219.0 708.1 222.7 711.8 224.3 715.3C225.9 718.8 227.4 722.6 228.9 726.0C230.4 729.3 232.9 732.4 233.3 735.3C233.6 738.2 231.3 742.2 230.9 743.6M224.4 676.0C225.4 677.7 229.3 683.2 230.2 686.3C231.0 689.4 228.6 692.5 229.3 694.5C230.1 696.5 234.5 696.8 234.7 698.2C234.9 699.5 230.1 699.7 230.5 702.7C230.8 705.7 236.1 713.1 236.7 716.2C237.2 719.4 233.2 719.4 233.6 721.6C234.0 723.8 238.2 728.0 239.1 729.2M221.0 676.0C221.6 677.4 223.6 680.9 224.3 684.2C225.0 687.5 224.8 692.5 225.2 695.8C225.7 699.1 227.9 702.0 227.1 704.1C226.3 706.3 220.3 705.6 220.5 708.5C220.7 711.3 227.2 717.5 228.3 721.2C229.5 724.8 226.2 728.1 227.4 730.3C228.6 732.4 234.1 733.3 235.4 733.9M222.8 676.0C221.7 676.7 217.6 678.6 216.3 680.0C214.9 681.4 215.8 682.5 214.8 684.5C213.8 686.5 210.7 689.8 210.3 692.2C209.9 694.6 212.1 697.3 212.4 698.8C212.8 700.4 212.2 700.3 212.4 701.3C212.6 702.3 215.2 703.0 213.7 704.9C212.2 706.8 205.1 711.3 203.4 712.6M222.5 676.0C221.9 677.1 219.3 679.7 218.8 682.7C218.3 685.6 220.0 689.6 219.4 693.5C218.9 697.4 216.5 701.2 215.3 705.8C214.1 710.4 212.8 717.6 212.3 721.1C211.7 724.7 212.5 724.2 211.8 727.2C211.0 730.2 210.1 736.3 207.6 739.4C205.2 742.4 198.9 744.7 197.2 745.7M223.6 676.0C224.7 678.0 230.4 683.8 230.0 688.0C229.6 692.3 223.6 698.4 221.2 701.5C218.9 704.5 215.7 703.0 216.2 706.3C216.6 709.7 223.6 717.1 223.9 721.6C224.2 726.0 217.0 729.4 217.7 732.8C218.4 736.2 227.4 738.8 228.0 742.0C228.6 745.1 222.5 750.3 221.4 751.9M221.7 676.0C223.1 677.8 229.0 684.7 229.9 686.8C230.9 689.0 226.4 687.2 227.4 689.1C228.3 691.1 235.1 696.0 235.7 698.6C236.4 701.1 230.0 702.2 231.1 704.7C232.3 707.2 241.7 710.9 242.6 713.6C243.5 716.3 237.3 718.3 236.6 721.0C235.9 723.7 238.0 728.2 238.3 729.7" fill="none" stroke="#cf7a33" stroke-width="2.4" stroke-linecap="round" opacity="0.55"/>
<path d="M223.7 676.0C224.9 678.0 229.3 685.3 230.6 688.1C231.8 690.8 232.0 688.9 231.2 692.5C230.4 696.2 226.1 705.4 225.9 710.0C225.6 714.5 230.0 717.0 229.6 719.8C229.2 722.5 223.9 723.6 223.4 726.5C222.9 729.4 225.1 734.4 226.6 737.2C228.1 740.0 231.6 742.1 232.6 743.1M221.3 676.0C221.7 677.4 223.7 681.0 223.9 684.2C224.2 687.3 223.7 691.3 222.8 694.9C221.8 698.5 220.9 701.1 218.4 705.7C215.9 710.3 209.3 718.8 207.7 722.6C206.0 726.3 206.8 724.6 208.3 728.2C209.9 731.9 217.4 739.8 216.8 744.4C216.2 749.0 206.6 754.1 204.6 756.0M223.2 676.0C224.3 677.3 228.6 681.3 229.8 684.0C231.1 686.6 232.0 690.3 230.8 692.0C229.5 693.7 223.7 693.0 222.1 694.2C220.5 695.3 221.3 696.8 221.0 698.9C220.7 700.9 219.1 704.6 220.4 706.6C221.7 708.5 227.1 708.4 228.8 710.6C230.5 712.8 230.4 718.2 230.7 719.7M221.9 676.0C221.6 677.3 219.4 681.9 220.4 684.0C221.3 686.1 225.3 686.7 227.4 688.8C229.5 690.9 232.3 692.9 233.1 696.7C233.8 700.4 233.5 707.7 232.0 711.4C230.5 715.2 224.1 716.8 224.0 719.1C223.8 721.5 230.4 723.9 231.2 725.6C232.0 727.3 229.1 728.9 228.7 729.5M221.1 676.0C222.0 677.6 224.6 683.9 226.4 685.8C228.1 687.7 231.5 685.9 231.5 687.5C231.5 689.1 225.6 693.5 226.2 695.3C226.9 697.1 233.3 695.9 235.4 698.4C237.4 700.9 237.1 708.2 238.5 710.3C239.9 712.3 242.1 709.4 243.8 710.6C245.5 711.7 248.1 716.2 248.9 717.4M222.0 676.0C221.7 678.4 219.8 686.9 220.0 690.3C220.2 693.7 223.1 693.7 223.2 696.3C223.3 699.0 221.3 702.7 220.4 706.2C219.4 709.6 216.4 712.1 217.5 716.8C218.5 721.6 226.1 731.0 226.4 734.5C226.8 738.0 218.7 734.9 219.5 737.9C220.4 740.9 229.6 750.2 231.6 752.7M222.4 676.0C223.0 677.4 226.4 682.2 225.6 684.5C224.9 686.9 218.5 687.8 218.0 690.2C217.5 692.6 223.2 694.9 222.6 698.9C221.9 702.9 216.8 710.3 214.1 714.2C211.4 718.1 206.1 719.6 206.2 722.2C206.3 724.9 214.2 728.2 214.7 730.3C215.3 732.4 210.3 734.2 209.4 735.0M222.6 676.0C221.8 677.7 217.5 682.1 218.0 686.1C218.4 690.0 224.6 696.2 225.3 699.7C226.0 703.2 224.2 703.7 222.0 707.0C219.8 710.3 214.2 716.4 211.9 719.6C209.6 722.9 209.6 723.9 208.2 726.6C206.8 729.3 204.9 731.5 203.4 735.9C201.9 740.3 199.8 750.2 199.0 753.1M225.8 676.0C225.4 676.8 224.0 677.9 223.5 681.0C222.9 684.1 221.3 691.7 222.5 694.8C223.8 697.9 229.7 697.0 230.9 699.7C232.0 702.5 230.1 708.2 229.7 711.3C229.3 714.5 228.5 716.5 228.4 718.7C228.3 720.9 229.3 722.3 229.3 724.6C229.3 726.8 228.6 730.9 228.5 732.2M222.9 676.0C222.6 678.2 220.2 685.8 220.8 689.0C221.5 692.3 227.2 693.0 227.0 695.6C226.8 698.2 219.9 701.5 219.4 704.8C219.0 708.1 222.7 711.8 224.3 715.3C225.9 718.8 227.4 722.6 228.9 726.0C230.4 729.3 232.9 732.4 233.3 735.3C233.6 738.2 231.3 742.2 230.9 743.6M224.4 676.0C225.4 677.7 229.3 683.2 230.2 686.3C231.0 689.4 228.6 692.5 229.3 694.5C230.1 696.5 234.5 696.8 234.7 698.2C234.9 699.5 230.1 699.7 230.5 702.7C230.8 705.7 236.1 713.1 236.7 716.2C237.2 719.4 233.2 719.4 233.6 721.6C234.0 723.8 238.2 728.0 239.1 729.2M221.0 676.0C221.6 677.4 223.6 680.9 224.3 684.2C225.0 687.5 224.8 692.5 225.2 695.8C225.7 699.1 227.9 702.0 227.1 704.1C226.3 706.3 220.3 705.6 220.5 708.5C220.7 711.3 227.2 717.5 228.3 721.2C229.5 724.8 226.2 728.1 227.4 730.3C228.6 732.4 234.1 733.3 235.4 733.9M222.8 676.0C221.7 676.7 217.6 678.6 216.3 680.0C214.9 681.4 215.8 682.5 214.8 684.5C213.8 686.5 210.7 689.8 210.3 692.2C209.9 694.6 212.1 697.3 212.4 698.8C212.8 700.4 212.2 700.3 212.4 701.3C212.6 702.3 215.2 703.0 213.7 704.9C212.2 706.8 205.1 711.3 203.4 712.6M222.5 676.0C221.9 677.1 219.3 679.7 218.8 682.7C218.3 685.6 220.0 689.6 219.4 693.5C218.9 697.4 216.5 701.2 215.3 705.8C214.1 710.4 212.8 717.6 212.3 721.1C211.7 724.7 212.5 724.2 211.8 727.2C211.0 730.2 210.1 736.3 207.6 739.4C205.2 742.4 198.9 744.7 197.2 745.7M223.6 676.0C224.7 678.0 230.4 683.8 230.0 688.0C229.6 692.3 223.6 698.4 221.2 701.5C218.9 704.5 215.7 703.0 216.2 706.3C216.6 709.7 223.6 717.1 223.9 721.6C224.2 726.0 217.0 729.4 217.7 732.8C218.4 736.2 227.4 738.8 228.0 742.0C228.6 745.1 222.5 750.3 221.4 751.9M221.7 676.0C223.1 677.8 229.0 684.7 229.9 686.8C230.9 689.0 226.4 687.2 227.4 689.1C228.3 691.1 235.1 696.0 235.7 698.6C236.4 701.1 230.0 702.2 231.1 704.7C232.3 707.2 241.7 710.9 242.6 713.6C243.5 716.3 237.3 718.3 236.6 721.0C235.9 723.7 238.0 728.2 238.3 729.7" fill="none" stroke="#ecc080" stroke-width="1.2" stroke-linecap="round" opacity="0.45" stroke-dasharray="3 5"/>
<path d="M226.0 680.0C230.0 683.3 242.7 693.0 250.0 700.0C257.3 707.0 264.5 716.2 270.0 722.0C275.5 727.8 280.8 732.8 283.0 735.0" fill="none" stroke="#cf7a33" stroke-width="1.5" stroke-linecap="round" opacity="0.55"/>
<path d="M216.0 684.0C211.7 688.3 197.7 700.3 190.0 710.0C182.3 719.7 174.7 734.3 170.0 742.0C165.3 749.7 163.3 753.7 162.0 756.0" fill="none" stroke="#cf7a33" stroke-width="1.5" stroke-linecap="round" opacity="0.55"/>
<path d="M230.0 690.0C232.5 695.0 240.3 711.7 245.0 720.0C249.7 728.3 255.8 736.7 258.0 740.0" fill="none" stroke="#cf7a33" stroke-width="1.5" stroke-linecap="round" opacity="0.55"/>
<path d="M365.4 680.0C366.2 680.5 370.0 680.4 370.2 683.2C370.5 686.1 366.9 694.1 366.8 697.1C366.7 700.0 367.9 699.3 369.6 700.7C371.3 702.2 375.0 704.2 376.9 705.7C378.9 707.3 379.2 708.5 381.5 710.2C383.8 711.9 389.7 714.0 390.6 715.9C391.4 717.8 387.4 720.9 386.8 721.9M365.6 680.0C365.4 681.5 364.6 684.2 364.1 688.8C363.6 693.4 363.4 703.1 362.7 707.7C362.1 712.4 360.0 713.1 360.4 716.6C360.8 720.2 364.4 724.8 365.2 728.9C366.0 732.9 364.7 737.1 365.1 741.0C365.5 745.0 366.3 748.7 367.8 752.6C369.3 756.4 372.9 762.0 373.9 763.9M364.9 680.0C364.7 681.6 363.2 685.6 363.9 689.7C364.6 693.9 369.0 700.0 369.1 705.0C369.2 710.0 366.7 715.9 364.6 719.6C362.6 723.4 357.1 724.6 356.9 727.6C356.7 730.7 363.0 734.4 363.5 738.1C364.1 741.8 361.2 745.1 360.1 750.0C359.1 754.8 357.7 764.2 357.2 767.0M369.7 680.0C369.2 681.1 366.2 683.3 366.7 686.3C367.3 689.4 372.9 694.3 373.2 698.4C373.6 702.4 368.3 707.3 369.0 710.6C369.7 713.9 376.4 716.0 377.6 718.2C378.7 720.3 376.4 721.1 376.1 723.6C375.9 726.2 374.9 730.3 376.0 733.6C377.1 736.9 381.4 741.7 382.5 743.4M366.3 680.0C365.8 681.8 363.4 686.8 363.2 691.0C363.1 695.1 362.7 701.3 365.3 704.9C368.0 708.6 376.9 709.6 379.3 713.1C381.6 716.5 380.5 721.0 379.2 725.7C378.0 730.4 371.7 737.5 371.8 741.2C371.9 745.0 377.6 745.1 379.7 748.3C381.8 751.5 383.7 758.5 384.5 760.6M366.5 680.0C366.7 681.1 368.8 684.6 368.0 686.9C367.1 689.2 362.4 690.6 361.5 693.8C360.5 696.9 361.3 702.0 362.1 705.8C362.9 709.6 365.0 713.6 366.1 716.6C367.2 719.7 367.1 722.5 368.7 724.4C370.3 726.3 376.9 725.7 375.9 727.8C375.0 729.9 365.2 735.4 363.1 737.0M366.3 680.0C366.1 682.4 365.8 690.5 364.9 694.5C364.0 698.6 361.0 700.8 361.1 704.3C361.1 707.8 364.6 711.6 365.1 715.4C365.6 719.2 362.2 723.2 364.0 726.9C365.7 730.7 373.8 735.4 375.5 737.9C377.3 740.5 373.5 739.4 374.5 742.2C375.5 745.1 380.4 753.0 381.5 755.1M364.5 680.0C364.6 681.1 365.6 683.2 365.1 686.3C364.6 689.5 361.1 695.8 361.5 698.8C362.0 701.8 366.4 701.1 367.7 704.3C369.0 707.5 368.1 714.7 369.3 718.2C370.5 721.7 374.5 722.7 375.1 725.2C375.6 727.8 373.1 730.8 372.6 733.5C372.1 736.1 372.4 739.9 372.4 741.2M366.7 680.0C367.0 681.9 370.2 688.2 368.8 691.6C367.3 694.9 359.0 697.4 358.0 700.3C356.9 703.1 360.6 704.7 362.3 708.8C364.0 712.8 368.6 720.4 368.2 724.7C367.8 729.1 362.4 732.1 360.0 735.0C357.7 737.9 354.6 738.3 354.0 741.9C353.5 745.5 356.2 754.2 356.7 756.6M367.9 680.0C368.6 682.0 371.9 687.9 372.4 691.8C372.9 695.8 373.1 700.9 370.8 703.6C368.5 706.4 360.5 704.8 358.8 708.1C357.2 711.4 361.5 719.2 361.0 723.4C360.5 727.6 356.1 730.3 356.0 733.0C355.8 735.7 360.3 736.2 360.0 739.5C359.7 742.8 355.0 750.7 354.0 752.9M368.7 680.0C367.9 681.7 363.1 686.2 364.1 690.5C365.0 694.8 374.1 702.1 374.2 705.8C374.2 709.5 365.5 709.0 364.4 712.8C363.4 716.7 367.3 724.1 367.9 728.8C368.5 733.5 368.1 737.2 368.1 741.0C368.1 744.8 368.4 748.5 367.9 751.6C367.4 754.7 365.7 758.1 365.3 759.4M366.6 680.0C367.4 681.2 372.5 684.0 371.7 687.5C370.9 690.9 362.6 697.2 361.5 700.5C360.4 703.8 364.7 704.1 365.0 707.3C365.4 710.5 363.4 717.0 363.6 719.9C363.9 722.8 364.8 722.2 366.6 724.9C368.5 727.6 374.6 732.0 374.9 735.9C375.2 739.8 369.6 746.2 368.5 748.3" fill="none" stroke="#cf7a33" stroke-width="2.4" stroke-linecap="round" opacity="0.55"/>
<path d="M365.4 680.0C366.2 680.5 370.0 680.4 370.2 683.2C370.5 686.1 366.9 694.1 366.8 697.1C366.7 700.0 367.9 699.3 369.6 700.7C371.3 702.2 375.0 704.2 376.9 705.7C378.9 707.3 379.2 708.5 381.5 710.2C383.8 711.9 389.7 714.0 390.6 715.9C391.4 717.8 387.4 720.9 386.8 721.9M365.6 680.0C365.4 681.5 364.6 684.2 364.1 688.8C363.6 693.4 363.4 703.1 362.7 707.7C362.1 712.4 360.0 713.1 360.4 716.6C360.8 720.2 364.4 724.8 365.2 728.9C366.0 732.9 364.7 737.1 365.1 741.0C365.5 745.0 366.3 748.7 367.8 752.6C369.3 756.4 372.9 762.0 373.9 763.9M364.9 680.0C364.7 681.6 363.2 685.6 363.9 689.7C364.6 693.9 369.0 700.0 369.1 705.0C369.2 710.0 366.7 715.9 364.6 719.6C362.6 723.4 357.1 724.6 356.9 727.6C356.7 730.7 363.0 734.4 363.5 738.1C364.1 741.8 361.2 745.1 360.1 750.0C359.1 754.8 357.7 764.2 357.2 767.0M369.7 680.0C369.2 681.1 366.2 683.3 366.7 686.3C367.3 689.4 372.9 694.3 373.2 698.4C373.6 702.4 368.3 707.3 369.0 710.6C369.7 713.9 376.4 716.0 377.6 718.2C378.7 720.3 376.4 721.1 376.1 723.6C375.9 726.2 374.9 730.3 376.0 733.6C377.1 736.9 381.4 741.7 382.5 743.4M366.3 680.0C365.8 681.8 363.4 686.8 363.2 691.0C363.1 695.1 362.7 701.3 365.3 704.9C368.0 708.6 376.9 709.6 379.3 713.1C381.6 716.5 380.5 721.0 379.2 725.7C378.0 730.4 371.7 737.5 371.8 741.2C371.9 745.0 377.6 745.1 379.7 748.3C381.8 751.5 383.7 758.5 384.5 760.6M366.5 680.0C366.7 681.1 368.8 684.6 368.0 686.9C367.1 689.2 362.4 690.6 361.5 693.8C360.5 696.9 361.3 702.0 362.1 705.8C362.9 709.6 365.0 713.6 366.1 716.6C367.2 719.7 367.1 722.5 368.7 724.4C370.3 726.3 376.9 725.7 375.9 727.8C375.0 729.9 365.2 735.4 363.1 737.0M366.3 680.0C366.1 682.4 365.8 690.5 364.9 694.5C364.0 698.6 361.0 700.8 361.1 704.3C361.1 707.8 364.6 711.6 365.1 715.4C365.6 719.2 362.2 723.2 364.0 726.9C365.7 730.7 373.8 735.4 375.5 737.9C377.3 740.5 373.5 739.4 374.5 742.2C375.5 745.1 380.4 753.0 381.5 755.1M364.5 680.0C364.6 681.1 365.6 683.2 365.1 686.3C364.6 689.5 361.1 695.8 361.5 698.8C362.0 701.8 366.4 701.1 367.7 704.3C369.0 707.5 368.1 714.7 369.3 718.2C370.5 721.7 374.5 722.7 375.1 725.2C375.6 727.8 373.1 730.8 372.6 733.5C372.1 736.1 372.4 739.9 372.4 741.2M366.7 680.0C367.0 681.9 370.2 688.2 368.8 691.6C367.3 694.9 359.0 697.4 358.0 700.3C356.9 703.1 360.6 704.7 362.3 708.8C364.0 712.8 368.6 720.4 368.2 724.7C367.8 729.1 362.4 732.1 360.0 735.0C357.7 737.9 354.6 738.3 354.0 741.9C353.5 745.5 356.2 754.2 356.7 756.6M367.9 680.0C368.6 682.0 371.9 687.9 372.4 691.8C372.9 695.8 373.1 700.9 370.8 703.6C368.5 706.4 360.5 704.8 358.8 708.1C357.2 711.4 361.5 719.2 361.0 723.4C360.5 727.6 356.1 730.3 356.0 733.0C355.8 735.7 360.3 736.2 360.0 739.5C359.7 742.8 355.0 750.7 354.0 752.9M368.7 680.0C367.9 681.7 363.1 686.2 364.1 690.5C365.0 694.8 374.1 702.1 374.2 705.8C374.2 709.5 365.5 709.0 364.4 712.8C363.4 716.7 367.3 724.1 367.9 728.8C368.5 733.5 368.1 737.2 368.1 741.0C368.1 744.8 368.4 748.5 367.9 751.6C367.4 754.7 365.7 758.1 365.3 759.4M366.6 680.0C367.4 681.2 372.5 684.0 371.7 687.5C370.9 690.9 362.6 697.2 361.5 700.5C360.4 703.8 364.7 704.1 365.0 707.3C365.4 710.5 363.4 717.0 363.6 719.9C363.9 722.8 364.8 722.2 366.6 724.9C368.5 727.6 374.6 732.0 374.9 735.9C375.2 739.8 369.6 746.2 368.5 748.3" fill="none" stroke="#ecc080" stroke-width="1.2" stroke-linecap="round" opacity="0.45" stroke-dasharray="3 5"/>
<path d="M372.0 684.0C374.7 690.0 382.8 710.3 388.0 720.0C393.2 729.7 400.5 738.3 403.0 742.0" fill="none" stroke="#cf7a33" stroke-width="1.5" stroke-linecap="round" opacity="0.55"/>
<path d="M360.0 690.0C359.2 698.3 356.3 726.7 355.0 740.0C353.7 753.3 352.5 765.0 352.0 770.0" fill="none" stroke="#cf7a33" stroke-width="1.5" stroke-linecap="round" opacity="0.55"/>
<path d="M505.2 682.0C505.2 684.2 504.8 691.2 505.1 695.2C505.5 699.2 507.1 701.2 507.5 705.8C507.8 710.3 506.4 718.2 507.1 722.5C507.8 726.7 512.0 727.7 511.8 731.3C511.6 735.0 505.5 739.3 505.8 744.4C506.1 749.6 514.1 756.8 513.8 762.4C513.5 768.0 505.6 775.3 504.0 777.9M508.3 682.0C507.6 683.2 503.7 685.9 504.0 688.9C504.2 692.0 509.5 696.2 509.8 700.1C510.2 704.0 506.8 708.2 505.9 712.4C505.0 716.5 503.7 720.6 504.5 725.0C505.4 729.4 509.8 735.0 511.2 738.8C512.7 742.7 512.9 744.6 513.4 748.0C513.8 751.4 514.0 757.2 514.2 759.0M505.2 682.0C506.3 684.7 511.4 694.1 511.7 698.4C512.0 702.7 509.0 704.1 507.0 707.9C504.9 711.7 501.2 716.2 499.4 721.4C497.6 726.6 496.2 733.6 496.3 738.9C496.4 744.2 499.5 748.4 499.9 753.3C500.3 758.1 498.0 764.4 498.6 767.8C499.3 771.3 503.1 772.9 504.0 773.9M503.8 682.0C505.2 683.5 512.4 687.5 512.1 690.9C511.8 694.3 501.4 699.4 501.8 702.5C502.2 705.5 513.5 706.5 514.5 709.3C515.5 712.2 506.4 715.6 508.0 719.5C509.5 723.4 522.4 729.5 523.6 732.6C524.8 735.8 516.1 736.0 515.3 738.3C514.5 740.6 518.2 745.1 518.8 746.5M507.3 682.0C507.0 683.3 505.4 686.9 505.6 689.9C505.7 692.9 508.2 696.5 508.1 699.8C508.1 703.2 506.6 706.5 505.2 710.1C503.9 713.7 501.8 716.7 500.3 721.3C498.8 725.9 496.0 734.1 496.2 737.7C496.4 741.3 500.8 740.3 501.6 742.8C502.3 745.2 500.7 750.8 500.5 752.4M504.9 682.0C504.2 684.5 500.8 693.6 500.6 696.9C500.5 700.3 501.9 699.3 504.2 702.1C506.5 704.9 513.4 710.2 514.4 713.7C515.5 717.1 511.1 718.6 510.4 722.6C509.7 726.6 509.5 733.4 510.3 737.7C511.1 742.1 513.8 745.4 515.4 748.9C517.1 752.4 519.6 757.1 520.4 758.7M508.3 682.0C509.1 683.3 514.2 685.9 513.3 690.0C512.5 694.0 503.4 702.7 503.2 706.3C503.1 709.9 512.4 708.2 512.4 711.5C512.4 714.8 503.2 722.5 503.5 725.9C503.7 729.4 512.1 728.4 513.8 732.1C515.6 735.8 514.7 744.3 513.8 748.1C513.0 751.9 509.6 753.8 508.8 754.9M503.1 682.0C502.3 684.5 499.4 692.2 498.4 697.1C497.4 702.0 496.8 707.5 497.1 711.5C497.3 715.4 500.8 716.3 500.0 720.6C499.1 725.0 494.0 733.1 492.0 737.5C490.1 741.9 488.2 742.3 488.3 747.0C488.5 751.6 492.4 760.9 492.8 765.4C493.3 770.0 491.4 772.8 491.1 774.3M508.0 682.0C507.3 683.0 505.2 686.2 503.8 687.9C502.4 689.5 499.8 689.7 499.5 692.0C499.3 694.3 502.6 699.1 502.2 701.5C501.8 703.8 496.5 703.4 497.1 706.1C497.7 708.7 505.3 714.8 505.8 717.3C506.4 719.9 501.9 720.3 500.5 721.3C499.1 722.3 497.9 722.9 497.3 723.2M502.7 682.0C503.0 684.8 506.0 694.2 504.4 698.7C502.8 703.3 494.4 705.1 493.3 709.2C492.2 713.2 497.8 718.1 497.8 723.0C497.8 727.8 495.1 734.0 493.4 738.1C491.7 742.2 487.5 743.3 487.7 747.6C487.9 751.8 493.9 758.9 494.6 763.4C495.3 768.0 492.5 773.0 492.0 774.9M507.3 682.0C507.9 684.0 509.8 691.2 511.2 694.0C512.7 696.9 514.9 696.1 515.9 699.0C516.8 701.9 517.0 708.2 517.1 711.4C517.2 714.6 516.7 715.7 516.7 718.3C516.6 720.9 515.8 724.6 516.8 726.8C517.9 729.0 521.4 728.1 523.0 731.6C524.6 735.1 526.0 745.0 526.6 747.7M507.8 682.0C508.5 683.6 511.6 688.3 511.8 691.7C512.0 695.2 509.9 699.7 508.8 702.9C507.7 706.2 505.6 708.6 505.1 711.3C504.5 714.0 504.3 716.9 505.7 719.2C507.1 721.6 511.5 722.5 513.5 725.3C515.6 728.2 517.3 732.6 518.2 736.6C519.1 740.5 518.6 747.0 518.7 749.1" fill="none" stroke="#cf7a33" stroke-width="2.4" stroke-linecap="round" opacity="0.55"/>
<path d="M505.2 682.0C505.2 684.2 504.8 691.2 505.1 695.2C505.5 699.2 507.1 701.2 507.5 705.8C507.8 710.3 506.4 718.2 507.1 722.5C507.8 726.7 512.0 727.7 511.8 731.3C511.6 735.0 505.5 739.3 505.8 744.4C506.1 749.6 514.1 756.8 513.8 762.4C513.5 768.0 505.6 775.3 504.0 777.9M508.3 682.0C507.6 683.2 503.7 685.9 504.0 688.9C504.2 692.0 509.5 696.2 509.8 700.1C510.2 704.0 506.8 708.2 505.9 712.4C505.0 716.5 503.7 720.6 504.5 725.0C505.4 729.4 509.8 735.0 511.2 738.8C512.7 742.7 512.9 744.6 513.4 748.0C513.8 751.4 514.0 757.2 514.2 759.0M505.2 682.0C506.3 684.7 511.4 694.1 511.7 698.4C512.0 702.7 509.0 704.1 507.0 707.9C504.9 711.7 501.2 716.2 499.4 721.4C497.6 726.6 496.2 733.6 496.3 738.9C496.4 744.2 499.5 748.4 499.9 753.3C500.3 758.1 498.0 764.4 498.6 767.8C499.3 771.3 503.1 772.9 504.0 773.9M503.8 682.0C505.2 683.5 512.4 687.5 512.1 690.9C511.8 694.3 501.4 699.4 501.8 702.5C502.2 705.5 513.5 706.5 514.5 709.3C515.5 712.2 506.4 715.6 508.0 719.5C509.5 723.4 522.4 729.5 523.6 732.6C524.8 735.8 516.1 736.0 515.3 738.3C514.5 740.6 518.2 745.1 518.8 746.5M507.3 682.0C507.0 683.3 505.4 686.9 505.6 689.9C505.7 692.9 508.2 696.5 508.1 699.8C508.1 703.2 506.6 706.5 505.2 710.1C503.9 713.7 501.8 716.7 500.3 721.3C498.8 725.9 496.0 734.1 496.2 737.7C496.4 741.3 500.8 740.3 501.6 742.8C502.3 745.2 500.7 750.8 500.5 752.4M504.9 682.0C504.2 684.5 500.8 693.6 500.6 696.9C500.5 700.3 501.9 699.3 504.2 702.1C506.5 704.9 513.4 710.2 514.4 713.7C515.5 717.1 511.1 718.6 510.4 722.6C509.7 726.6 509.5 733.4 510.3 737.7C511.1 742.1 513.8 745.4 515.4 748.9C517.1 752.4 519.6 757.1 520.4 758.7M508.3 682.0C509.1 683.3 514.2 685.9 513.3 690.0C512.5 694.0 503.4 702.7 503.2 706.3C503.1 709.9 512.4 708.2 512.4 711.5C512.4 714.8 503.2 722.5 503.5 725.9C503.7 729.4 512.1 728.4 513.8 732.1C515.6 735.8 514.7 744.3 513.8 748.1C513.0 751.9 509.6 753.8 508.8 754.9M503.1 682.0C502.3 684.5 499.4 692.2 498.4 697.1C497.4 702.0 496.8 707.5 497.1 711.5C497.3 715.4 500.8 716.3 500.0 720.6C499.1 725.0 494.0 733.1 492.0 737.5C490.1 741.9 488.2 742.3 488.3 747.0C488.5 751.6 492.4 760.9 492.8 765.4C493.3 770.0 491.4 772.8 491.1 774.3M508.0 682.0C507.3 683.0 505.2 686.2 503.8 687.9C502.4 689.5 499.8 689.7 499.5 692.0C499.3 694.3 502.6 699.1 502.2 701.5C501.8 703.8 496.5 703.4 497.1 706.1C497.7 708.7 505.3 714.8 505.8 717.3C506.4 719.9 501.9 720.3 500.5 721.3C499.1 722.3 497.9 722.9 497.3 723.2M502.7 682.0C503.0 684.8 506.0 694.2 504.4 698.7C502.8 703.3 494.4 705.1 493.3 709.2C492.2 713.2 497.8 718.1 497.8 723.0C497.8 727.8 495.1 734.0 493.4 738.1C491.7 742.2 487.5 743.3 487.7 747.6C487.9 751.8 493.9 758.9 494.6 763.4C495.3 768.0 492.5 773.0 492.0 774.9M507.3 682.0C507.9 684.0 509.8 691.2 511.2 694.0C512.7 696.9 514.9 696.1 515.9 699.0C516.8 701.9 517.0 708.2 517.1 711.4C517.2 714.6 516.7 715.7 516.7 718.3C516.6 720.9 515.8 724.6 516.8 726.8C517.9 729.0 521.4 728.1 523.0 731.6C524.6 735.1 526.0 745.0 526.6 747.7M507.8 682.0C508.5 683.6 511.6 688.3 511.8 691.7C512.0 695.2 509.9 699.7 508.8 702.9C507.7 706.2 505.6 708.6 505.1 711.3C504.5 714.0 504.3 716.9 505.7 719.2C507.1 721.6 511.5 722.5 513.5 725.3C515.6 728.2 517.3 732.6 518.2 736.6C519.1 740.5 518.6 747.0 518.7 749.1" fill="none" stroke="#ecc080" stroke-width="1.2" stroke-linecap="round" opacity="0.45" stroke-dasharray="3 5"/>
<path d="M503.0 684.0C499.2 687.5 486.7 696.0 480.0 705.0C473.3 714.0 466.5 726.8 463.0 738.0C459.5 749.2 459.7 766.3 459.0 772.0" fill="none" stroke="#cf7a33" stroke-width="1.5" stroke-linecap="round" opacity="0.55"/>
<path d="M508.0 690.0C509.7 698.3 514.3 724.5 518.0 740.0C521.7 755.5 528.0 775.8 530.0 783.0" fill="none" stroke="#cf7a33" stroke-width="1.5" stroke-linecap="round" opacity="0.55"/>
<path d="M506.0 690.0C504.7 700.0 500.3 733.3 498.0 750.0C495.7 766.7 493.0 783.3 492.0 790.0" fill="none" stroke="#cf7a33" stroke-width="1.5" stroke-linecap="round" opacity="0.55"/>
</g>
</g>
</g>
</g>

<ellipse cx="16.05" cy="13.8" rx="11.6" ry="13.2" fill="#fff" stroke="#050505" stroke-width="1.35"/>
<text transform="translate(15.85,20.70) scale(1.0,1.1)" font-size="17.6" text-anchor="middle" font-weight="bold" fill="#0a0a0a" >a</text>
<ellipse cx="12.75" cy="307.85" rx="11.6" ry="13.2" fill="#fff" stroke="#050505" stroke-width="1.35"/>
<text transform="translate(12.55,314.75) scale(1.0,1.1)" font-size="17.6" text-anchor="middle" font-weight="bold" fill="#0a0a0a" >b</text>
<ellipse cx="15.9" cy="565.9" rx="11.6" ry="13.2" fill="#fff" stroke="#050505" stroke-width="1.35"/>
<text transform="translate(15.70,572.80) scale(1.0,1.1)" font-size="17.6" text-anchor="middle" font-weight="bold" fill="#0a0a0a" >c</text>
<ellipse cx="326.4" cy="19.55" rx="11.6" ry="13.2" fill="#fff" stroke="#050505" stroke-width="1.35"/>
<text transform="translate(326.20,26.45) scale(1.0,1.1)" font-size="17.6" text-anchor="middle" font-weight="bold" fill="#0a0a0a" >d</text>
<ellipse cx="332.9" cy="286.2" rx="11.6" ry="13.2" fill="#fff" stroke="#050505" stroke-width="1.35"/>
<text transform="translate(332.70,293.10) scale(1.0,1.1)" font-size="17.6" text-anchor="middle" font-weight="bold" fill="#0a0a0a" >e</text>
<ellipse cx="367.05" cy="566" rx="11.6" ry="13.2" fill="#fff" stroke="#050505" stroke-width="1.35"/>
<text transform="translate(366.85,572.90) scale(1.0,1.1)" font-size="17.6" text-anchor="middle" font-weight="bold" fill="#0a0a0a" >f</text>
<path d="M396.00 24.60V208.40H605.00M390.10 208.40H396.00M390.10 171.80H396.00M390.10 135.20H396.00M390.10 98.60H396.00M390.10 62.00H396.00M390.10 25.40H396.00M418.90 208.40V216.70M472.70 208.40V216.70M526.30 208.40V216.70M580.10 208.40V216.70" stroke="#050505" stroke-width="1.7" fill="none"/>
<text transform="translate(388.00,213.88) scale(0.7,1.0)" font-size="14.6" text-anchor="end" fill="#0a0a0a"  stroke="#0a0a0a" stroke-width="0.55">0.0</text>
<text transform="translate(388.00,177.28) scale(0.7,1.0)" font-size="14.6" text-anchor="end" fill="#0a0a0a"  stroke="#0a0a0a" stroke-width="0.55">0.1</text>
<text transform="translate(388.00,140.67) scale(0.7,1.0)" font-size="14.6" text-anchor="end" fill="#0a0a0a"  stroke="#0a0a0a" stroke-width="0.55">0.2</text>
<text transform="translate(388.00,104.08) scale(0.7,1.0)" font-size="14.6" text-anchor="end" fill="#0a0a0a"  stroke="#0a0a0a" stroke-width="0.55">0.3</text>
<text transform="translate(388.00,67.47) scale(0.7,1.0)" font-size="14.6" text-anchor="end" fill="#0a0a0a"  stroke="#0a0a0a" stroke-width="0.55">0.4</text>
<text transform="translate(388.00,30.88) scale(0.7,1.0)" font-size="14.6" text-anchor="end" fill="#0a0a0a"  stroke="#0a0a0a" stroke-width="0.55">0.5</text>
<text transform="translate(418.90,231.30) scale(0.7,1.0)" font-size="14.6" text-anchor="middle" fill="#0a0a0a"  stroke="#0a0a0a" stroke-width="0.55">0</text>
<text transform="translate(472.70,231.30) scale(0.7,1.0)" font-size="14.6" text-anchor="middle" fill="#0a0a0a"  stroke="#0a0a0a" stroke-width="0.55">500</text>
<text transform="translate(526.30,231.30) scale(0.7,1.0)" font-size="14.6" text-anchor="middle" fill="#0a0a0a"  stroke="#0a0a0a" stroke-width="0.55">1000</text>
<text transform="translate(580.10,231.30) scale(0.7,1.0)" font-size="14.6" text-anchor="middle" fill="#0a0a0a"  stroke="#0a0a0a" stroke-width="0.55">1500</text>
<path d="M409.00 70.42V64.82M405.60 64.82H412.40" stroke="#050505" stroke-width="1.5" fill="none"/>
<rect x="403.05" y="70.42" width="11.90" height="137.98" fill="#f4fcbc" stroke="#050505" stroke-width="1.6"/>
<path d="M462.80 83.41V74.88M459.40 74.88H466.20" stroke="#050505" stroke-width="1.5" fill="none"/>
<rect x="456.85" y="83.41" width="11.90" height="124.99" fill="#f4fcbc" stroke="#050505" stroke-width="1.6"/>
<path d="M516.40 93.81V80.48M513.00 80.48H519.80" stroke="#050505" stroke-width="1.5" fill="none"/>
<rect x="510.45" y="93.81" width="11.90" height="114.59" fill="#f4fcbc" stroke="#050505" stroke-width="1.6"/>
<path d="M570.20 83.70V80.19M566.80 80.19H573.60" stroke="#050505" stroke-width="1.5" fill="none"/>
<rect x="564.25" y="83.70" width="11.90" height="124.70" fill="#f4fcbc" stroke="#050505" stroke-width="1.6"/>
<path d="M429.40 192.99V188.78M426.00 188.78H432.80" stroke="#050505" stroke-width="1.5" fill="none"/>
<rect x="423.45" y="192.99" width="11.90" height="15.41" fill="#d9bca6" stroke="#050505" stroke-width="1.6"/>
<path d="M483.20 198.88V195.41M479.80 195.41H486.60" stroke="#050505" stroke-width="1.5" fill="none"/>
<rect x="477.25" y="198.88" width="11.90" height="9.52" fill="#d9bca6" stroke="#050505" stroke-width="1.6"/>
<path d="M536.80 194.89V186.92M533.40 186.92H540.20" stroke="#050505" stroke-width="1.5" fill="none"/>
<rect x="530.85" y="194.89" width="11.90" height="13.51" fill="#d9bca6" stroke="#050505" stroke-width="1.6"/>
<path d="M590.60 195.99V193.80M587.20 193.80H594.00" stroke="#050505" stroke-width="1.5" fill="none"/>
<rect x="584.65" y="195.99" width="11.90" height="12.41" fill="#d9bca6" stroke="#050505" stroke-width="1.6"/>
<path d="M512.25 76.88L512.25 74.63M512.25 76.88L514.39 76.19M512.25 76.88L513.57 78.70M512.25 76.88L510.93 78.70M512.25 76.88L510.11 76.19M516.40 76.88L516.40 74.63M516.40 76.88L518.54 76.19M516.40 76.88L517.72 78.70M516.40 76.88L515.08 78.70M516.40 76.88L514.26 76.19M520.55 76.88L520.55 74.63M520.55 76.88L522.69 76.19M520.55 76.88L521.87 78.70M520.55 76.88L519.23 78.70M520.55 76.88L518.41 76.19" stroke="#050505" stroke-width="0.95" fill="none"/>
<text transform="translate(363.40,121.75) rotate(-90) scale(0.919,1.0)" font-size="15.8" text-anchor="middle" font-weight="bold" fill="#0a0a0a" >Fresh and Dry weight (g)</text>
<text transform="translate(494.80,247.70) scale(0.975,1.0)" font-size="14.9" text-anchor="middle" font-weight="bold" fill="#0a0a0a" >Metal Concentrations (µM)</text>
<rect x="605.60" y="33.75" width="12.80" height="6.40" fill="#f4fcbc" stroke="#050505" stroke-width="1.4"/>
<text transform="translate(627.70,41.65) scale(0.87,1.0)" font-size="12.8" text-anchor="start" fill="#0a0a0a"  stroke="#0a0a0a" stroke-width="0.55">Root F.W.</text>
<rect x="605.60" y="58.40" width="12.80" height="6.40" fill="#d9bca6" stroke="#050505" stroke-width="1.4"/>
<text transform="translate(627.70,66.30) scale(0.87,1.0)" font-size="12.8" text-anchor="start" fill="#0a0a0a"  stroke="#0a0a0a" stroke-width="0.55">Root D.W.</text>
<path d="M51.50 330.40V503.40H249.10M46.00 503.40H51.50M46.00 460.35H51.50M46.00 417.30H51.50M46.00 374.25H51.50M46.00 331.20H51.50M74.05 503.40V510.90M124.60 503.40V510.90M174.70 503.40V510.90M225.30 503.40V510.90" stroke="#050505" stroke-width="1.5" fill="none"/>
<text transform="translate(43.90,508.35) scale(0.72,1.0)" font-size="13.2" text-anchor="end" fill="#0a0a0a"  stroke="#0a0a0a" stroke-width="0.5">0</text>
<text transform="translate(43.90,465.30) scale(0.72,1.0)" font-size="13.2" text-anchor="end" fill="#0a0a0a"  stroke="#0a0a0a" stroke-width="0.5">20</text>
<text transform="translate(43.90,422.25) scale(0.72,1.0)" font-size="13.2" text-anchor="end" fill="#0a0a0a"  stroke="#0a0a0a" stroke-width="0.5">40</text>
<text transform="translate(43.90,379.20) scale(0.72,1.0)" font-size="13.2" text-anchor="end" fill="#0a0a0a"  stroke="#0a0a0a" stroke-width="0.5">60</text>
<text transform="translate(43.90,336.15) scale(0.72,1.0)" font-size="13.2" text-anchor="end" fill="#0a0a0a"  stroke="#0a0a0a" stroke-width="0.5">80</text>
<text transform="translate(74.05,524.90) scale(0.72,1.0)" font-size="13.2" text-anchor="middle" fill="#0a0a0a"  stroke="#0a0a0a" stroke-width="0.5">0</text>
<text transform="translate(124.60,524.90) scale(0.72,1.0)" font-size="13.2" text-anchor="middle" fill="#0a0a0a"  stroke="#0a0a0a" stroke-width="0.5">500</text>
<text transform="translate(174.70,524.90) scale(0.72,1.0)" font-size="13.2" text-anchor="middle" fill="#0a0a0a"  stroke="#0a0a0a" stroke-width="0.5">1000</text>
<text transform="translate(225.30,524.90) scale(0.72,1.0)" font-size="13.2" text-anchor="middle" fill="#0a0a0a"  stroke="#0a0a0a" stroke-width="0.5">1500</text>
<path d="M60.55 410.69V405.89M58.05 405.89H63.05" stroke="#050505" stroke-width="1.4" fill="none"/>
<rect x="56.90" y="410.69" width="7.30" height="92.71" fill="#abdda9" stroke="#050505" stroke-width="1.5"/>
<path d="M111.10 408.80V403.50M108.60 403.50H113.60" stroke="#050505" stroke-width="1.4" fill="none"/>
<rect x="107.45" y="408.80" width="7.30" height="94.60" fill="#abdda9" stroke="#050505" stroke-width="1.5"/>
<path d="M161.20 404.30V399.80M158.70 399.80H163.70" stroke="#050505" stroke-width="1.4" fill="none"/>
<rect x="157.55" y="404.30" width="7.30" height="99.10" fill="#abdda9" stroke="#050505" stroke-width="1.5"/>
<path d="M211.80 395.50V390.70M209.30 390.70H214.30" stroke="#050505" stroke-width="1.4" fill="none"/>
<rect x="208.15" y="395.50" width="7.30" height="107.90" fill="#abdda9" stroke="#050505" stroke-width="1.5"/>
<path d="M74.35 484.39V481.60M71.85 481.60H76.85" stroke="#050505" stroke-width="1.4" fill="none"/>
<rect x="70.70" y="484.39" width="7.30" height="19.01" fill="#dbb0b0" stroke="#050505" stroke-width="1.5"/>
<path d="M124.90 484.91V482.50M122.40 482.50H127.40" stroke="#050505" stroke-width="1.4" fill="none"/>
<rect x="121.25" y="484.91" width="7.30" height="18.49" fill="#dbb0b0" stroke="#050505" stroke-width="1.5"/>
<path d="M175.00 484.01V481.70M172.50 481.70H177.50" stroke="#050505" stroke-width="1.4" fill="none"/>
<rect x="171.35" y="484.01" width="7.30" height="19.39" fill="#dbb0b0" stroke="#050505" stroke-width="1.5"/>
<path d="M225.60 482.80V480.11M223.10 480.11H228.10" stroke="#050505" stroke-width="1.4" fill="none"/>
<rect x="221.95" y="482.80" width="7.30" height="20.60" fill="#dbb0b0" stroke="#050505" stroke-width="1.5"/>
<path d="M88.00 395.99V383.40M85.50 383.40H90.50" stroke="#050505" stroke-width="1.4" fill="none"/>
<rect x="84.35" y="395.99" width="7.30" height="107.41" fill="#8aabd6" stroke="#050505" stroke-width="1.5"/>
<path d="M138.55 387.90V382.60M136.05 382.60H141.05" stroke="#050505" stroke-width="1.4" fill="none"/>
<rect x="134.90" y="387.90" width="7.30" height="115.50" fill="#8aabd6" stroke="#050505" stroke-width="1.5"/>
<path d="M188.65 377.80V371.11M186.15 371.11H191.15" stroke="#050505" stroke-width="1.4" fill="none"/>
<rect x="185.00" y="377.80" width="7.30" height="125.60" fill="#8aabd6" stroke="#050505" stroke-width="1.5"/>
<path d="M239.25 373.50V367.06M236.75 367.06H241.75" stroke="#050505" stroke-width="1.4" fill="none"/>
<rect x="235.60" y="373.50" width="7.30" height="129.90" fill="#8aabd6" stroke="#050505" stroke-width="1.5"/>
<path d="M184.50 367.51L184.50 365.26M184.50 367.51L186.64 366.81M184.50 367.51L185.82 369.33M184.50 367.51L183.18 369.33M184.50 367.51L182.36 366.81M188.65 367.51L188.65 365.26M188.65 367.51L190.79 366.81M188.65 367.51L189.97 369.33M188.65 367.51L187.33 369.33M188.65 367.51L186.51 366.81M192.80 367.51L192.80 365.26M192.80 367.51L194.94 366.81M192.80 367.51L194.12 369.33M192.80 367.51L191.48 369.33M192.80 367.51L190.66 366.81" stroke="#050505" stroke-width="0.95" fill="none"/>
<path d="M209.73 387.10L209.73 384.85M209.73 387.10L211.86 386.40M209.73 387.10L211.05 388.92M209.73 387.10L208.40 388.92M209.73 387.10L207.59 386.40M213.88 387.10L213.88 384.85M213.88 387.10L216.01 386.40M213.88 387.10L215.20 388.92M213.88 387.10L212.55 388.92M213.88 387.10L211.74 386.40" stroke="#050505" stroke-width="0.95" fill="none"/>
<path d="M235.10 363.46L235.10 361.21M235.10 363.46L237.24 362.77M235.10 363.46L236.42 365.28M235.10 363.46L233.78 365.28M235.10 363.46L232.96 362.77M239.25 363.46L239.25 361.21M239.25 363.46L241.39 362.77M239.25 363.46L240.57 365.28M239.25 363.46L237.93 365.28M239.25 363.46L237.11 362.77M243.40 363.46L243.40 361.21M243.40 363.46L245.54 362.77M243.40 363.46L244.72 365.28M243.40 363.46L242.08 365.28M243.40 363.46L241.26 362.77" stroke="#050505" stroke-width="0.95" fill="none"/>
<text transform="translate(23.70,424.80) rotate(-90)" font-size="15.4" text-anchor="middle" font-weight="bold" fill="#0a0a0a" >Length (cm)</text>
<text transform="translate(149.50,545.80)" font-size="15.4" text-anchor="middle" font-weight="bold" fill="#0a0a0a" >Metal Concentrations (µM)</text>
<rect x="258.20" y="340.10" width="12.50" height="5.60" fill="#abdda9" stroke="#050505" stroke-width="1.4"/>
<text transform="translate(279.60,347.60) scale(0.815,1.0)" font-size="12.8" text-anchor="start" fill="#0a0a0a"  stroke="#0a0a0a" stroke-width="0.55">Shoot Length</text>
<rect x="258.20" y="362.40" width="12.50" height="5.60" fill="#dbb0b0" stroke="#050505" stroke-width="1.4"/>
<text transform="translate(279.60,369.90) scale(0.815,1.0)" font-size="12.8" text-anchor="start" fill="#0a0a0a"  stroke="#0a0a0a" stroke-width="0.55">Root Length</text>
<rect x="258.20" y="385.00" width="12.50" height="5.60" fill="#8aabd6" stroke="#050505" stroke-width="1.4"/>
<text transform="translate(279.60,392.50) scale(0.815,1.0)" font-size="12.8" text-anchor="start" fill="#0a0a0a"  stroke="#0a0a0a" stroke-width="0.55">Total Length</text>
<g transform="translate(0,824.9) scale(1,1.22) translate(0,-824.9)">
<path d="M35.50 634.26V824.90H259.80M28.90 824.90H35.50M28.90 761.62H35.50M28.90 698.34H35.50M28.90 635.06H35.50M59.90 824.90V832.90M117.90 824.90V832.90M175.40 824.90V832.90M233.20 824.90V832.90" stroke="#050505" stroke-width="1.85" fill="none"/>
<text transform="translate(26.80,830.38) scale(0.76,1.0)" font-size="14.6" text-anchor="end" fill="#0a0a0a"  stroke="#0a0a0a" stroke-width="0.5">0</text>
<text transform="translate(26.80,767.10) scale(0.76,1.0)" font-size="14.6" text-anchor="end" fill="#0a0a0a"  stroke="#0a0a0a" stroke-width="0.5">1</text>
<text transform="translate(26.80,703.82) scale(0.76,1.0)" font-size="14.6" text-anchor="end" fill="#0a0a0a"  stroke="#0a0a0a" stroke-width="0.5">2</text>
<text transform="translate(26.80,640.54) scale(0.76,1.0)" font-size="14.6" text-anchor="end" fill="#0a0a0a"  stroke="#0a0a0a" stroke-width="0.5">3</text>
<text transform="translate(59.90,848.90) scale(0.76,1.0)" font-size="14.6" text-anchor="middle" fill="#0a0a0a"  stroke="#0a0a0a" stroke-width="0.5">0</text>
<text transform="translate(117.90,848.90) scale(0.76,1.0)" font-size="14.6" text-anchor="middle" fill="#0a0a0a"  stroke="#0a0a0a" stroke-width="0.5">500</text>
<text transform="translate(175.40,848.90) scale(0.76,1.0)" font-size="14.6" text-anchor="middle" fill="#0a0a0a"  stroke="#0a0a0a" stroke-width="0.5">1000</text>
<text transform="translate(233.20,848.90) scale(0.76,1.0)" font-size="14.6" text-anchor="middle" fill="#0a0a0a"  stroke="#0a0a0a" stroke-width="0.5">1500</text>
<path d="M49.70 730.30V710.81M45.70 710.81H53.70" stroke="#050505" stroke-width="1.65" fill="none"/>
<rect x="43.45" y="730.30" width="12.50" height="94.60" fill="#abdda9" stroke="#050505" stroke-width="1.75"/>
<path d="M107.70 716.12V700.05M103.70 700.05H111.70" stroke="#050505" stroke-width="1.65" fill="none"/>
<rect x="101.45" y="716.12" width="12.50" height="108.78" fill="#abdda9" stroke="#050505" stroke-width="1.75"/>
<path d="M165.20 698.98V688.15M161.20 688.15H169.20" stroke="#050505" stroke-width="1.65" fill="none"/>
<rect x="158.95" y="698.98" width="12.50" height="125.92" fill="#abdda9" stroke="#050505" stroke-width="1.75"/>
<path d="M223.00 673.41V662.34M219.00 662.34H227.00" stroke="#050505" stroke-width="1.65" fill="none"/>
<rect x="216.75" y="673.41" width="12.50" height="151.49" fill="#abdda9" stroke="#050505" stroke-width="1.75"/>
<path d="M71.35 813.57V809.08M67.35 809.08H75.35" stroke="#050505" stroke-width="1.65" fill="none"/>
<rect x="65.10" y="813.57" width="12.50" height="11.33" fill="#d9bca6" stroke="#050505" stroke-width="1.75"/>
<path d="M129.35 815.28V812.75M125.35 812.75H133.35" stroke="#050505" stroke-width="1.65" fill="none"/>
<rect x="123.10" y="815.28" width="12.50" height="9.62" fill="#d9bca6" stroke="#050505" stroke-width="1.75"/>
<path d="M186.85 813.07V809.08M182.85 809.08H190.85" stroke="#050505" stroke-width="1.65" fill="none"/>
<rect x="180.60" y="813.07" width="12.50" height="11.83" fill="#d9bca6" stroke="#050505" stroke-width="1.75"/>
<path d="M244.65 810.16V808.26M240.65 808.26H248.65" stroke="#050505" stroke-width="1.65" fill="none"/>
<rect x="238.40" y="810.16" width="12.50" height="14.74" fill="#d9bca6" stroke="#050505" stroke-width="1.75"/>
<path d="M162.88 683.85L162.88 681.55M162.88 683.85L165.06 683.14M162.88 683.85L164.23 685.72M162.88 683.85L161.52 685.72M162.88 683.85L160.69 683.14M167.53 683.85L167.53 681.55M167.53 683.85L169.71 683.14M167.53 683.85L168.88 685.72M167.53 683.85L166.17 685.72M167.53 683.85L165.34 683.14" stroke="#050505" stroke-width="0.95" fill="none"/>
<path d="M218.35 658.04L218.35 655.74M218.35 658.04L220.54 657.33M218.35 658.04L219.70 659.90M218.35 658.04L217.00 659.90M218.35 658.04L216.16 657.33M223.00 658.04L223.00 655.74M223.00 658.04L225.19 657.33M223.00 658.04L224.35 659.90M223.00 658.04L221.65 659.90M223.00 658.04L220.81 657.33M227.65 658.04L227.65 655.74M227.65 658.04L229.84 657.33M227.65 658.04L229.00 659.90M227.65 658.04L226.30 659.90M227.65 658.04L225.46 657.33" stroke="#050505" stroke-width="0.95" fill="none"/>
</g>
<text transform="translate(13.80,719.50) rotate(-90) scale(1.01,1.0)" font-size="14.2" text-anchor="middle" font-weight="bold" fill="#0a0a0a" >Fresh and Dry weight (g)</text>
<text transform="translate(142.80,866.80) scale(0.975,1.0)" font-size="14.7" text-anchor="middle" font-weight="bold" fill="#0a0a0a" >Metal Concentrations (µM)</text>
<rect x="266.10" y="604.80" width="13.90" height="8.70" fill="#abdda9" stroke="#050505" stroke-width="1.8"/>
<text transform="translate(290.20,614.85) scale(0.75,1.0)" font-size="16" text-anchor="start" fill="#0a0a0a"  stroke="#0a0a0a" stroke-width="0.65">Shoot F.W.</text>
<rect x="266.10" y="634.90" width="13.90" height="8.70" fill="#d9bca6" stroke="#050505" stroke-width="1.8"/>
<text transform="translate(290.20,644.95) scale(0.75,1.0)" font-size="16" text-anchor="start" fill="#0a0a0a"  stroke="#0a0a0a" stroke-width="0.65">Shoot D.W.</text>
<path d="M390.20 615.86V820.30H601.60M384.10 820.30H390.20M384.10 769.39H390.20M384.10 718.48H390.20M384.10 667.57H390.20M384.10 616.66H390.20M413.50 820.30V829.00M467.60 820.30V829.00M521.50 820.30V829.00M575.60 820.30V829.00" stroke="#050505" stroke-width="1.8" fill="none"/>
<text transform="translate(381.80,825.92) scale(0.67,1.0)" font-size="15" text-anchor="end" fill="#0a0a0a"  stroke="#0a0a0a" stroke-width="0.55">0</text>
<text transform="translate(381.80,775.01) scale(0.67,1.0)" font-size="15" text-anchor="end" fill="#0a0a0a"  stroke="#0a0a0a" stroke-width="0.55">10</text>
<text transform="translate(381.80,724.10) scale(0.67,1.0)" font-size="15" text-anchor="end" fill="#0a0a0a"  stroke="#0a0a0a" stroke-width="0.55">20</text>
<text transform="translate(381.80,673.19) scale(0.67,1.0)" font-size="15" text-anchor="end" fill="#0a0a0a"  stroke="#0a0a0a" stroke-width="0.55">30</text>
<text transform="translate(381.80,622.28) scale(0.67,1.0)" font-size="15" text-anchor="end" fill="#0a0a0a"  stroke="#0a0a0a" stroke-width="0.55">40</text>
<text transform="translate(413.50,844.90) scale(0.67,1.0)" font-size="15" text-anchor="middle" fill="#0a0a0a"  stroke="#0a0a0a" stroke-width="0.55">0</text>
<text transform="translate(467.60,844.90) scale(0.67,1.0)" font-size="15" text-anchor="middle" fill="#0a0a0a"  stroke="#0a0a0a" stroke-width="0.55">500</text>
<text transform="translate(521.50,844.90) scale(0.67,1.0)" font-size="15" text-anchor="middle" fill="#0a0a0a"  stroke="#0a0a0a" stroke-width="0.55">1000</text>
<text transform="translate(575.60,844.90) scale(0.67,1.0)" font-size="15" text-anchor="middle" fill="#0a0a0a"  stroke="#0a0a0a" stroke-width="0.55">1500</text>
<path d="M403.75 719.19V711.91M400.65 711.91H406.85" stroke="#050505" stroke-width="1.5" fill="none"/>
<rect x="397.90" y="719.19" width="11.70" height="101.11" fill="#c9ddf6" stroke="#050505" stroke-width="1.6"/>
<path d="M457.85 690.58V672.41M454.75 672.41H460.95" stroke="#050505" stroke-width="1.5" fill="none"/>
<rect x="452.00" y="690.58" width="11.70" height="129.72" fill="#c9ddf6" stroke="#050505" stroke-width="1.6"/>
<path d="M511.75 683.05V667.32M508.65 667.32H514.85" stroke="#050505" stroke-width="1.5" fill="none"/>
<rect x="505.90" y="683.05" width="11.70" height="137.25" fill="#c9ddf6" stroke="#050505" stroke-width="1.6"/>
<path d="M565.85 683.50V671.80M562.75 671.80H568.95" stroke="#050505" stroke-width="1.5" fill="none"/>
<rect x="560.00" y="683.50" width="11.70" height="136.80" fill="#c9ddf6" stroke="#050505" stroke-width="1.6"/>
<path d="M424.10 817.09V815.57M421.00 815.57H427.20" stroke="#050505" stroke-width="1.5" fill="none"/>
<rect x="418.25" y="817.09" width="11.70" height="3.21" fill="#b67ac4" stroke="#050505" stroke-width="1.6"/>
<path d="M478.20 817.09V815.46M475.10 815.46H481.30" stroke="#050505" stroke-width="1.5" fill="none"/>
<rect x="472.35" y="817.09" width="11.70" height="3.21" fill="#b67ac4" stroke="#050505" stroke-width="1.6"/>
<path d="M532.10 816.99V815.21M529.00 815.21H535.20" stroke="#050505" stroke-width="1.5" fill="none"/>
<rect x="526.25" y="816.99" width="11.70" height="3.31" fill="#b67ac4" stroke="#050505" stroke-width="1.6"/>
<path d="M586.20 816.99V815.21M583.10 815.21H589.30" stroke="#050505" stroke-width="1.5" fill="none"/>
<rect x="580.35" y="816.99" width="11.70" height="3.31" fill="#b67ac4" stroke="#050505" stroke-width="1.6"/>
<path d="M455.70 667.81L455.70 665.51M455.70 667.81L457.89 667.10M455.70 667.81L457.05 669.67M455.70 667.81L454.35 669.67M455.70 667.81L453.51 667.10M460.00 667.81L460.00 665.51M460.00 667.81L462.19 667.10M460.00 667.81L461.35 669.67M460.00 667.81L458.65 669.67M460.00 667.81L457.81 667.10" stroke="#050505" stroke-width="0.95" fill="none"/>
<path d="M507.45 662.72L507.45 660.42M507.45 662.72L509.64 662.00M507.45 662.72L508.80 664.58M507.45 662.72L506.10 664.58M507.45 662.72L505.26 662.00M511.75 662.72L511.75 660.42M511.75 662.72L513.94 662.00M511.75 662.72L513.10 664.58M511.75 662.72L510.40 664.58M511.75 662.72L509.56 662.00M516.05 662.72L516.05 660.42M516.05 662.72L518.24 662.00M516.05 662.72L517.40 664.58M516.05 662.72L514.70 664.58M516.05 662.72L513.86 662.00" stroke="#050505" stroke-width="0.95" fill="none"/>
<path d="M561.55 667.20L561.55 664.90M561.55 667.20L563.74 666.48M561.55 667.20L562.90 669.06M561.55 667.20L560.20 669.06M561.55 667.20L559.36 666.48M565.85 667.20L565.85 664.90M565.85 667.20L568.04 666.48M565.85 667.20L567.20 669.06M565.85 667.20L564.50 669.06M565.85 667.20L563.66 666.48M570.15 667.20L570.15 664.90M570.15 667.20L572.34 666.48M570.15 667.20L571.50 669.06M570.15 667.20L568.80 669.06M570.15 667.20L567.96 666.48" stroke="#050505" stroke-width="0.95" fill="none"/>
<text transform="translate(358.10,739.00) rotate(-90) scale(0.94,1.0)" font-size="17" text-anchor="middle" font-weight="bold" fill="#0a0a0a" >Length (cm)</text>
<text transform="translate(495.80,864.80) scale(1.045,1.0)" font-size="15.5" text-anchor="middle" font-weight="bold" fill="#0a0a0a" >Metal Concentrations (µM)</text>
<rect x="603.80" y="626.50" width="13.30" height="7.40" fill="#c9ddf6" stroke="#050505" stroke-width="1.8"/>
<text transform="translate(626.50,635.20) scale(0.82,1.0)" font-size="13.4" text-anchor="start" fill="#0a0a0a"  stroke="#0a0a0a" stroke-width="0.6">Leaf Length</text>
<rect x="603.80" y="652.90" width="13.30" height="7.40" fill="#b67ac4" stroke="#050505" stroke-width="1.8"/>
<text transform="translate(626.50,661.60) scale(0.82,1.0)" font-size="13.4" text-anchor="start" fill="#0a0a0a"  stroke="#0a0a0a" stroke-width="0.6">Leaf Width</text>
<path d="M433.55 282.20V482.50H567.50M425.05 482.50H433.55M425.05 416.00H433.55M425.05 349.50H433.55M425.05 283.00H433.55M453.80 482.50V491.40M484.90 482.50V491.40M515.50 482.50V491.40M546.70 482.50V491.40" stroke="#050505" stroke-width="1.8" fill="none"/>
<text transform="translate(422.25,487.50)" font-size="13.7" text-anchor="end" font-weight="bold" fill="#0a0a0a"  stroke="#0a0a0a" stroke-width="0.4">0</text>
<text transform="translate(422.25,421.00)" font-size="13.7" text-anchor="end" font-weight="bold" fill="#0a0a0a"  stroke="#0a0a0a" stroke-width="0.4">2</text>
<text transform="translate(422.25,354.50)" font-size="13.7" text-anchor="end" font-weight="bold" fill="#0a0a0a"  stroke="#0a0a0a" stroke-width="0.4">4</text>
<text transform="translate(422.25,288.00)" font-size="13.7" text-anchor="end" font-weight="bold" fill="#0a0a0a"  stroke="#0a0a0a" stroke-width="0.4">6</text>
<path d="M454.20 317.41V295.80M449.05 295.80H459.35" stroke="#050505" stroke-width="1.7" fill="none"/>
<rect x="445.20" y="317.41" width="18.00" height="165.09" fill="#abdda9" stroke="#050505" stroke-width="1.8"/>
<text transform="translate(457.80,505.50) rotate(-44) scale(0.95,1.0)" font-size="14.4" text-anchor="end" font-weight="bold" fill="#0a0a0a"  stroke="#0a0a0a" stroke-width="0.3">0</text>
<path d="M485.00 334.60V315.82M479.85 315.82H490.15" stroke="#050505" stroke-width="1.7" fill="none"/>
<rect x="476.00" y="334.60" width="18.00" height="147.90" fill="#d9bca6" stroke="#050505" stroke-width="1.8"/>
<text transform="translate(488.90,505.50) rotate(-44) scale(0.95,1.0)" font-size="14.4" text-anchor="end" font-weight="bold" fill="#0a0a0a"  stroke="#0a0a0a" stroke-width="0.3">500</text>
<path d="M515.90 314.59V290.22M510.75 290.22H521.05" stroke="#050505" stroke-width="1.7" fill="none"/>
<rect x="506.90" y="314.59" width="18.00" height="167.91" fill="#f4fcbc" stroke="#050505" stroke-width="1.8"/>
<text transform="translate(519.50,505.50) rotate(-44) scale(0.95,1.0)" font-size="14.4" text-anchor="end" font-weight="bold" fill="#0a0a0a"  stroke="#0a0a0a" stroke-width="0.3">1000</text>
<path d="M546.70 324.10V302.68M541.55 302.68H551.85" stroke="#050505" stroke-width="1.7" fill="none"/>
<rect x="537.70" y="324.10" width="18.00" height="158.40" fill="#fdc07f" stroke="#050505" stroke-width="1.8"/>
<text transform="translate(550.70,505.50) rotate(-44) scale(0.95,1.0)" font-size="14.4" text-anchor="end" font-weight="bold" fill="#0a0a0a"  stroke="#0a0a0a" stroke-width="0.3">1500</text>
<text transform="translate(406.20,400.60) rotate(-90) scale(0.965,1.0)" font-size="14.6" text-anchor="middle" font-weight="bold" fill="#0a0a0a" >Number of Leaves</text>
<text transform="translate(504.20,547.10) scale(0.958,1.0)" font-size="14.9" text-anchor="middle" font-weight="bold" fill="#0a0a0a" >Metal Concentrations (µM)</text>
</svg>
</body></html>
